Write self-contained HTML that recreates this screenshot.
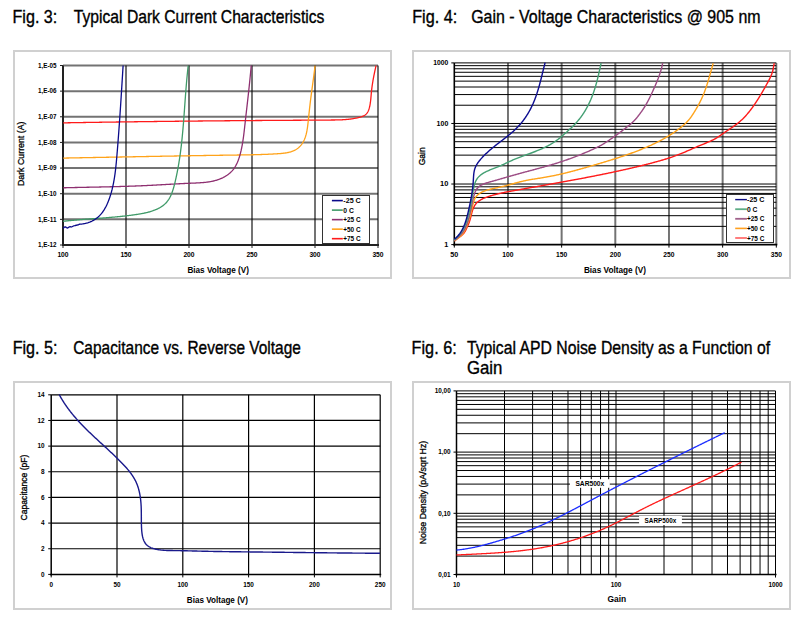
<!DOCTYPE html>
<html><head><meta charset="utf-8"><style>
html,body{margin:0;padding:0;background:#fff;width:804px;height:620px;overflow:hidden}
svg{display:block;font-family:"Liberation Sans", sans-serif}
</style></head><body>
<svg width="804" height="620" viewBox="0 0 804 620">
<rect width="804" height="620" fill="#fff"/>
<text x="12.50" y="22.70" font-size="17.80" font-weight="normal" text-anchor="start" fill="#000" textLength="44.80" lengthAdjust="spacingAndGlyphs" stroke="#000" stroke-width="0.35">Fig. 3:</text>
<text x="73.80" y="22.70" font-size="17.80" font-weight="normal" text-anchor="start" fill="#000" textLength="250.60" lengthAdjust="spacingAndGlyphs" stroke="#000" stroke-width="0.35">Typical Dark Current Characteristics</text>
<text x="412.20" y="22.70" font-size="17.80" font-weight="normal" text-anchor="start" fill="#000" textLength="45.10" lengthAdjust="spacingAndGlyphs" stroke="#000" stroke-width="0.35">Fig. 4:</text>
<text x="471.20" y="22.70" font-size="17.80" font-weight="normal" text-anchor="start" fill="#000" textLength="289.40" lengthAdjust="spacingAndGlyphs" stroke="#000" stroke-width="0.35">Gain - Voltage Characteristics @ 905 nm</text>
<text x="12.70" y="353.50" font-size="17.80" font-weight="normal" text-anchor="start" fill="#000" textLength="44.80" lengthAdjust="spacingAndGlyphs" stroke="#000" stroke-width="0.35">Fig. 5:</text>
<text x="73.20" y="353.50" font-size="17.80" font-weight="normal" text-anchor="start" fill="#000" textLength="227.70" lengthAdjust="spacingAndGlyphs" stroke="#000" stroke-width="0.35">Capacitance vs. Reverse Voltage</text>
<text x="411.60" y="353.50" font-size="17.80" font-weight="normal" text-anchor="start" fill="#000" textLength="45.10" lengthAdjust="spacingAndGlyphs" stroke="#000" stroke-width="0.35">Fig. 6:</text>
<text x="466.90" y="353.50" font-size="17.80" font-weight="normal" text-anchor="start" fill="#000" textLength="303.20" lengthAdjust="spacingAndGlyphs" stroke="#000" stroke-width="0.35">Typical APD Noise Density as a Function of</text>
<text x="466.90" y="374.40" font-size="17.80" font-weight="normal" text-anchor="start" fill="#000" textLength="35.50" lengthAdjust="spacingAndGlyphs" stroke="#000" stroke-width="0.35">Gain</text>
<rect x="14.0" y="51.0" width="377.0" height="227.0" fill="none" stroke="#d0d0d0" stroke-width="2"/>
<rect x="413.0" y="51.0" width="377.0" height="227.0" fill="none" stroke="#d0d0d0" stroke-width="2"/>
<rect x="14.0" y="382.0" width="377.0" height="227.0" fill="none" stroke="#d0d0d0" stroke-width="2"/>
<rect x="413.0" y="382.0" width="377.0" height="227.0" fill="none" stroke="#d0d0d0" stroke-width="2"/>
<line x1="63.00" y1="65.50" x2="378.00" y2="65.50" stroke="rgba(0,0,0,0.55)" stroke-width="2.00"/>
<line x1="63.00" y1="91.14" x2="378.00" y2="91.14" stroke="rgba(0,0,0,0.55)" stroke-width="2.00"/>
<line x1="63.00" y1="116.79" x2="378.00" y2="116.79" stroke="rgba(0,0,0,0.55)" stroke-width="2.00"/>
<line x1="63.00" y1="142.43" x2="378.00" y2="142.43" stroke="rgba(0,0,0,0.55)" stroke-width="2.00"/>
<line x1="63.00" y1="168.07" x2="378.00" y2="168.07" stroke="rgba(0,0,0,0.55)" stroke-width="2.00"/>
<line x1="63.00" y1="193.71" x2="378.00" y2="193.71" stroke="rgba(0,0,0,0.55)" stroke-width="2.00"/>
<line x1="63.00" y1="219.36" x2="378.00" y2="219.36" stroke="rgba(0,0,0,0.55)" stroke-width="2.00"/>
<line x1="126.00" y1="65.50" x2="126.00" y2="245.00" stroke="rgba(0,0,0,0.55)" stroke-width="2.00"/>
<line x1="189.00" y1="65.50" x2="189.00" y2="245.00" stroke="rgba(0,0,0,0.55)" stroke-width="2.00"/>
<line x1="252.00" y1="65.50" x2="252.00" y2="245.00" stroke="rgba(0,0,0,0.55)" stroke-width="2.00"/>
<line x1="315.00" y1="65.50" x2="315.00" y2="245.00" stroke="rgba(0,0,0,0.55)" stroke-width="2.00"/>
<line x1="378.00" y1="65.50" x2="378.00" y2="245.00" stroke="rgba(0,0,0,0.55)" stroke-width="2.00"/>
<line x1="63.00" y1="65.50" x2="63.00" y2="246.00" stroke="#222" stroke-width="2.00"/>
<line x1="62.00" y1="245.00" x2="379.00" y2="245.00" stroke="#222" stroke-width="2.00"/>
<line x1="60.00" y1="65.50" x2="63.00" y2="65.50" stroke="#222" stroke-width="1.00"/>
<text x="56.50" y="67.80" font-size="6.40" font-weight="bold" text-anchor="end" fill="#000" textLength="18.50" lengthAdjust="spacingAndGlyphs">1,E-05</text>
<line x1="60.00" y1="91.14" x2="63.00" y2="91.14" stroke="#222" stroke-width="1.00"/>
<text x="56.50" y="93.44" font-size="6.40" font-weight="bold" text-anchor="end" fill="#000" textLength="18.50" lengthAdjust="spacingAndGlyphs">1,E-06</text>
<line x1="60.00" y1="116.79" x2="63.00" y2="116.79" stroke="#222" stroke-width="1.00"/>
<text x="56.50" y="119.09" font-size="6.40" font-weight="bold" text-anchor="end" fill="#000" textLength="18.50" lengthAdjust="spacingAndGlyphs">1,E-07</text>
<line x1="60.00" y1="142.43" x2="63.00" y2="142.43" stroke="#222" stroke-width="1.00"/>
<text x="56.50" y="144.73" font-size="6.40" font-weight="bold" text-anchor="end" fill="#000" textLength="18.50" lengthAdjust="spacingAndGlyphs">1,E-08</text>
<line x1="60.00" y1="168.07" x2="63.00" y2="168.07" stroke="#222" stroke-width="1.00"/>
<text x="56.50" y="170.37" font-size="6.40" font-weight="bold" text-anchor="end" fill="#000" textLength="18.50" lengthAdjust="spacingAndGlyphs">1,E-09</text>
<line x1="60.00" y1="193.71" x2="63.00" y2="193.71" stroke="#222" stroke-width="1.00"/>
<text x="56.50" y="196.01" font-size="6.40" font-weight="bold" text-anchor="end" fill="#000" textLength="18.50" lengthAdjust="spacingAndGlyphs">1,E-10</text>
<line x1="60.00" y1="219.36" x2="63.00" y2="219.36" stroke="#222" stroke-width="1.00"/>
<text x="56.50" y="221.66" font-size="6.40" font-weight="bold" text-anchor="end" fill="#000" textLength="18.50" lengthAdjust="spacingAndGlyphs">1,E-11</text>
<line x1="60.00" y1="245.00" x2="63.00" y2="245.00" stroke="#222" stroke-width="1.00"/>
<text x="56.50" y="247.30" font-size="6.40" font-weight="bold" text-anchor="end" fill="#000" textLength="18.50" lengthAdjust="spacingAndGlyphs">1,E-12</text>
<line x1="63.00" y1="245.00" x2="63.00" y2="248.00" stroke="#222" stroke-width="1.00"/>
<text x="63.00" y="257.20" font-size="6.40" font-weight="bold" text-anchor="middle" fill="#000" textLength="11.20" lengthAdjust="spacingAndGlyphs">100</text>
<line x1="126.00" y1="245.00" x2="126.00" y2="248.00" stroke="#222" stroke-width="1.00"/>
<text x="126.00" y="257.20" font-size="6.40" font-weight="bold" text-anchor="middle" fill="#000" textLength="11.20" lengthAdjust="spacingAndGlyphs">150</text>
<line x1="189.00" y1="245.00" x2="189.00" y2="248.00" stroke="#222" stroke-width="1.00"/>
<text x="189.00" y="257.20" font-size="6.40" font-weight="bold" text-anchor="middle" fill="#000" textLength="11.20" lengthAdjust="spacingAndGlyphs">200</text>
<line x1="252.00" y1="245.00" x2="252.00" y2="248.00" stroke="#222" stroke-width="1.00"/>
<text x="252.00" y="257.20" font-size="6.40" font-weight="bold" text-anchor="middle" fill="#000" textLength="11.20" lengthAdjust="spacingAndGlyphs">250</text>
<line x1="315.00" y1="245.00" x2="315.00" y2="248.00" stroke="#222" stroke-width="1.00"/>
<text x="315.00" y="257.20" font-size="6.40" font-weight="bold" text-anchor="middle" fill="#000" textLength="11.20" lengthAdjust="spacingAndGlyphs">300</text>
<line x1="378.00" y1="245.00" x2="378.00" y2="248.00" stroke="#222" stroke-width="1.00"/>
<text x="378.00" y="257.20" font-size="6.40" font-weight="bold" text-anchor="middle" fill="#000" textLength="11.20" lengthAdjust="spacingAndGlyphs">350</text>
<text x="218.20" y="272.60" font-size="8.20" font-weight="bold" text-anchor="middle" fill="#000" textLength="61.60" lengthAdjust="spacingAndGlyphs">Bias Voltage (V)</text>
<g transform="translate(23.5,153.8) rotate(-90)">
<text x="0.00" y="0.00" font-size="9.40" font-weight="normal" text-anchor="middle" fill="#000" textLength="64.50" lengthAdjust="spacingAndGlyphs" stroke="#000" stroke-width="0.3">Dark Current (A)</text>
</g>
<clipPath id="c3"><rect x="63" y="64.6" width="316" height="181"/></clipPath><g clip-path="url(#c3)">
<path d="M63.22,122.85 63.92,122.84 64.62,122.83 65.32,122.82 66.02,122.80 66.72,122.79 67.41,122.78 68.11,122.77 68.81,122.76 69.51,122.75 70.21,122.73 70.91,122.72 71.61,122.71 72.31,122.70 73.00,122.69 73.70,122.68 74.40,122.66 75.10,122.65 75.80,122.64 76.50,122.63 77.20,122.62 77.90,122.61 78.60,122.60 79.29,122.58 79.99,122.57 80.69,122.56 81.39,122.55 82.09,122.54 82.79,122.53 83.49,122.52 84.19,122.51 84.89,122.49 85.59,122.48 86.29,122.47 86.98,122.46 87.68,122.45 88.38,122.44 89.08,122.43 89.78,122.42 90.48,122.41 91.18,122.40 91.88,122.38 92.58,122.37 93.28,122.36 93.98,122.35 94.68,122.34 95.38,122.33 96.07,122.32 96.77,122.31 97.47,122.30 98.17,122.29 98.87,122.28 99.57,122.27 100.27,122.26 100.97,122.25 101.67,122.23 102.37,122.22 103.07,122.21 103.77,122.20 104.47,122.19 105.17,122.18 105.87,122.17 106.57,122.16 107.27,122.15 107.97,122.14 108.67,122.13 109.37,122.12 110.06,122.11 110.76,122.10 111.46,122.09 112.16,122.08 112.86,122.07 113.56,122.06 114.26,122.05 114.96,122.04 115.66,122.03 116.36,122.02 117.06,122.01 117.76,122.00 118.46,121.99 119.16,121.98 119.86,121.97 120.56,121.96 121.26,121.95 121.96,121.94 122.66,121.93 123.36,121.92 124.06,121.91 124.76,121.90 125.46,121.89 126.16,121.88 126.86,121.87 127.56,121.86 128.26,121.85 128.96,121.84 129.66,121.83 130.36,121.83 131.06,121.82 131.76,121.81 132.46,121.80 133.16,121.79 133.86,121.78 134.56,121.77 135.26,121.76 135.96,121.75 136.66,121.74 137.36,121.73 138.06,121.72 138.76,121.71 139.46,121.70 140.16,121.69 140.86,121.69 141.56,121.68 142.26,121.67 142.96,121.66 143.66,121.65 144.36,121.64 145.06,121.63 145.76,121.62 146.46,121.61 147.16,121.60 147.86,121.60 148.56,121.59 149.26,121.58 149.96,121.57 150.66,121.56 151.36,121.55 152.06,121.54 152.76,121.53 153.46,121.53 154.16,121.52 154.86,121.51 155.56,121.50 156.26,121.49 156.96,121.48 157.66,121.47 158.36,121.47 159.06,121.46 159.76,121.45 160.46,121.44 161.16,121.43 161.86,121.42 162.56,121.42 163.26,121.41 163.96,121.40 164.66,121.39 165.36,121.38 166.06,121.37 166.76,121.37 167.46,121.36 168.16,121.35 168.86,121.34 169.56,121.33 170.26,121.33 170.96,121.32 171.66,121.31 172.36,121.30 173.06,121.29 173.76,121.29 174.46,121.28 175.16,121.27 175.86,121.26 176.56,121.25 177.26,121.25 177.96,121.24 178.66,121.23 179.36,121.22 180.06,121.22 180.76,121.21 181.46,121.20 182.16,121.19 182.86,121.18 183.56,121.18 184.26,121.17 184.96,121.16 185.66,121.15 186.36,121.15 187.06,121.14 187.76,121.13 188.46,121.12 189.16,121.12 189.86,121.11 190.56,121.10 191.26,121.09 191.96,121.09 192.66,121.08 193.36,121.07 194.06,121.07 194.76,121.06 195.46,121.05 196.16,121.04 196.86,121.04 197.56,121.03 198.26,121.02 198.96,121.02 199.66,121.01 200.36,121.00 201.06,120.99 201.76,120.99 202.46,120.98 203.16,120.97 203.86,120.97 204.56,120.96 205.26,120.95 205.96,120.95 206.66,120.94 207.36,120.93 208.06,120.93 208.76,120.92 209.46,120.91 210.16,120.91 210.86,120.90 211.56,120.89 212.26,120.89 212.96,120.88 213.66,120.87 214.36,120.87 215.06,120.86 215.76,120.85 216.46,120.85 217.16,120.84 217.86,120.83 218.56,120.83 219.26,120.82 219.96,120.81 220.66,120.81 221.36,120.80 222.06,120.80 222.75,120.79 223.45,120.78 224.15,120.78 224.85,120.77 225.55,120.76 226.25,120.76 226.95,120.75 227.65,120.75 228.35,120.74 229.05,120.73 229.75,120.73 230.45,120.72 231.15,120.72 231.85,120.71 232.55,120.70 233.25,120.70 233.95,120.69 234.65,120.69 235.35,120.68 236.05,120.67 236.75,120.67 237.45,120.66 238.14,120.66 238.84,120.65 239.54,120.65 240.24,120.64 240.94,120.63 241.64,120.63 242.34,120.62 243.04,120.62 243.74,120.61 244.44,120.61 245.14,120.60 245.84,120.60 246.54,120.59 247.24,120.58 247.94,120.58 248.63,120.57 249.33,120.57 250.03,120.56 250.73,120.56 251.43,120.55 252.13,120.55 252.83,120.54 253.53,120.54 254.23,120.53 254.93,120.53 255.63,120.52 256.32,120.52 257.02,120.51 257.72,120.51 258.42,120.50 259.12,120.50 259.82,120.49 260.52,120.49 261.22,120.48 261.92,120.48 262.62,120.47 263.31,120.47 264.01,120.46 264.71,120.46 265.41,120.45 266.11,120.45 266.81,120.44 267.51,120.44 268.21,120.43 268.90,120.43 269.60,120.42 270.30,120.42 271.00,120.41 271.70,120.41 272.40,120.40 273.10,120.40 273.79,120.39 274.49,120.39 275.19,120.39 275.89,120.38 276.59,120.38 277.29,120.37 277.99,120.37 278.68,120.36 279.38,120.36 280.08,120.35 280.78,120.35 281.48,120.35 282.18,120.34 282.87,120.34 283.57,120.33 284.27,120.33 284.97,120.32 285.67,120.32 286.37,120.32 287.07,120.31 287.76,120.31 288.46,120.30 289.16,120.30 289.86,120.29 290.56,120.29 291.26,120.29 291.96,120.28 292.66,120.28 293.35,120.27 294.05,120.27 294.75,120.26 295.45,120.26 296.15,120.26 296.85,120.25 297.55,120.25 298.25,120.24 298.95,120.24 299.65,120.23 300.35,120.23 301.05,120.23 301.75,120.22 302.45,120.22 303.15,120.21 303.85,120.21 304.55,120.20 305.25,120.20 305.95,120.20 306.65,120.19 307.35,120.19 308.05,120.18 308.75,120.18 309.45,120.17 310.15,120.17 310.85,120.16 311.55,120.16 312.25,120.16 312.96,120.15 313.66,120.15 314.36,120.14 315.06,120.14 315.76,120.13 316.46,120.13 317.17,120.12 317.87,120.12 318.57,120.11 319.27,120.11 319.98,120.10 320.68,120.10 321.38,120.09 322.09,120.09 322.79,120.08 323.49,120.08 324.20,120.07 324.90,120.07 325.60,120.06 326.31,120.06 327.01,120.05 327.72,120.05 328.42,120.04 329.13,120.04 329.83,120.03 330.54,120.03 331.24,120.02 331.95,120.02 332.65,120.01 333.36,120.00 334.06,119.99 334.77,119.98 335.47,119.97 336.18,119.96 336.88,119.95 337.59,119.93 338.29,119.91 339.00,119.89 339.70,119.87 340.40,119.84 341.10,119.82 341.81,119.79 342.51,119.75 343.21,119.71 343.90,119.67 344.60,119.63 345.30,119.58 346.00,119.52 346.69,119.46 347.39,119.40 348.08,119.33 348.77,119.26 349.46,119.18 350.15,119.10 350.84,119.01 351.53,118.92 352.21,118.82 352.90,118.71 353.58,118.60 354.26,118.48 354.94,118.36 355.62,118.22 356.30,118.08 356.97,117.94 357.64,117.78 358.31,117.62 358.98,117.45 359.65,117.27 360.31,117.09 360.97,116.89 361.62,116.67 362.25,116.44 362.87,116.19 363.48,115.91 364.06,115.61 364.62,115.29 365.16,114.93 365.67,114.54 366.15,114.12 366.59,113.65 367.00,113.15 367.38,112.61 367.72,112.04 368.04,111.44 368.33,110.82 368.59,110.17 368.83,109.50 369.05,108.83 369.26,108.14 369.45,107.44 369.62,106.74 369.78,106.04 369.92,105.33 370.06,104.62 370.18,103.90 370.29,103.18 370.40,102.46 370.49,101.74 370.58,101.01 370.66,100.29 370.74,99.56 370.81,98.84 370.88,98.11 370.94,97.38 371.01,96.66 371.07,95.94 371.13,95.22 371.19,94.50 371.25,93.78 371.32,93.07 371.38,92.36 371.46,91.65 371.53,90.95 371.61,90.25 371.69,89.55 371.77,88.85 371.85,88.16 371.94,87.47 372.03,86.78 372.13,86.09 372.22,85.41 372.32,84.73 372.43,84.04 372.53,83.36 372.64,82.68 372.75,82.00 372.86,81.33 372.97,80.65 373.09,79.97 373.21,79.29 373.33,78.62 373.46,77.94 373.59,77.26 373.71,76.59 373.85,75.91 373.98,75.23 374.12,74.55 374.26,73.87 374.40,73.19 374.54,72.50 374.68,71.82 374.83,71.13 374.98,70.44 375.13,69.75 375.29,69.06 375.44,68.36 375.60,67.66 375.76,66.96 375.92,66.26 376.08,65.55" fill="none" stroke="#ff1a1a" stroke-width="1.30" stroke-linejoin="round" stroke-linecap="butt"/>
<path d="M63.25,158.08 63.95,158.07 64.64,158.06 65.34,158.05 66.04,158.03 66.73,158.02 67.43,158.01 68.13,157.99 68.82,157.98 69.52,157.97 70.22,157.95 70.91,157.94 71.61,157.93 72.31,157.92 73.00,157.90 73.70,157.89 74.40,157.88 75.10,157.86 75.79,157.85 76.49,157.84 77.19,157.82 77.89,157.81 78.58,157.80 79.28,157.78 79.98,157.77 80.68,157.76 81.38,157.75 82.07,157.73 82.77,157.72 83.47,157.71 84.17,157.69 84.87,157.68 85.56,157.67 86.26,157.65 86.96,157.64 87.66,157.63 88.36,157.61 89.06,157.60 89.76,157.59 90.45,157.57 91.15,157.56 91.85,157.55 92.55,157.53 93.25,157.52 93.95,157.51 94.65,157.49 95.35,157.48 96.04,157.47 96.74,157.45 97.44,157.44 98.14,157.43 98.84,157.41 99.54,157.40 100.24,157.39 100.94,157.38 101.64,157.36 102.34,157.35 103.04,157.34 103.74,157.32 104.44,157.31 105.14,157.30 105.83,157.28 106.53,157.27 107.23,157.26 107.93,157.24 108.63,157.23 109.33,157.22 110.03,157.20 110.73,157.19 111.43,157.18 112.13,157.16 112.83,157.15 113.53,157.14 114.23,157.12 114.93,157.11 115.63,157.10 116.33,157.08 117.03,157.07 117.73,157.06 118.43,157.04 119.13,157.03 119.83,157.02 120.53,157.00 121.23,156.99 121.93,156.98 122.63,156.96 123.33,156.95 124.03,156.94 124.74,156.92 125.44,156.91 126.14,156.90 126.84,156.88 127.54,156.87 128.24,156.86 128.94,156.85 129.64,156.83 130.34,156.82 131.04,156.81 131.74,156.79 132.44,156.78 133.14,156.77 133.84,156.75 134.54,156.74 135.24,156.73 135.94,156.71 136.64,156.70 137.34,156.69 138.04,156.67 138.74,156.66 139.45,156.65 140.15,156.64 140.85,156.62 141.55,156.61 142.25,156.60 142.95,156.58 143.65,156.57 144.35,156.56 145.05,156.54 145.75,156.53 146.45,156.52 147.15,156.51 147.85,156.49 148.55,156.48 149.25,156.47 149.95,156.45 150.66,156.44 151.36,156.43 152.06,156.42 152.76,156.40 153.46,156.39 154.16,156.38 154.86,156.36 155.56,156.35 156.26,156.34 156.96,156.33 157.66,156.31 158.36,156.30 159.06,156.29 159.76,156.28 160.46,156.26 161.16,156.25 161.86,156.24 162.57,156.22 163.27,156.21 163.97,156.20 164.67,156.19 165.37,156.17 166.07,156.16 166.77,156.15 167.47,156.14 168.17,156.12 168.87,156.11 169.57,156.10 170.27,156.09 170.97,156.07 171.67,156.06 172.37,156.05 173.07,156.04 173.77,156.03 174.47,156.01 175.17,156.00 175.87,155.99 176.57,155.98 177.27,155.96 177.97,155.95 178.67,155.94 179.37,155.93 180.07,155.92 180.77,155.90 181.47,155.89 182.17,155.88 182.87,155.87 183.57,155.86 184.27,155.84 184.97,155.83 185.67,155.82 186.37,155.81 187.07,155.80 187.77,155.78 188.47,155.77 189.17,155.76 189.87,155.75 190.57,155.74 191.27,155.72 191.96,155.71 192.66,155.70 193.36,155.69 194.06,155.68 194.76,155.67 195.46,155.65 196.16,155.64 196.86,155.63 197.56,155.62 198.26,155.61 198.96,155.60 199.65,155.59 200.35,155.57 201.05,155.56 201.75,155.55 202.45,155.54 203.15,155.53 203.85,155.52 204.55,155.51 205.24,155.50 205.94,155.48 206.64,155.47 207.34,155.46 208.04,155.45 208.74,155.44 209.43,155.43 210.13,155.42 210.83,155.41 211.53,155.40 212.23,155.39 212.92,155.37 213.62,155.36 214.32,155.35 215.02,155.34 215.71,155.33 216.41,155.32 217.11,155.31 217.81,155.30 218.50,155.29 219.20,155.28 219.90,155.27 220.60,155.26 221.29,155.25 221.99,155.24 222.69,155.23 223.38,155.22 224.08,155.21 224.78,155.19 225.47,155.18 226.17,155.17 226.87,155.16 227.56,155.15 228.26,155.14 228.96,155.13 229.65,155.12 230.35,155.11 231.04,155.10 231.74,155.09 232.44,155.08 233.13,155.07 233.83,155.06 234.52,155.05 235.22,155.05 235.92,155.04 236.61,155.03 237.31,155.02 238.00,155.01 238.70,155.00 239.39,154.99 240.09,154.98 240.78,154.97 241.48,154.96 242.18,154.95 242.87,154.93 243.57,154.92 244.26,154.91 244.96,154.90 245.66,154.89 246.35,154.88 247.05,154.86 247.75,154.85 248.44,154.84 249.14,154.83 249.84,154.81 250.54,154.80 251.24,154.78 251.93,154.77 252.63,154.75 253.33,154.74 254.03,154.72 254.73,154.70 255.43,154.68 256.13,154.67 256.84,154.65 257.54,154.63 258.24,154.61 258.94,154.59 259.65,154.57 260.35,154.54 261.05,154.52 261.76,154.50 262.46,154.47 263.17,154.45 263.87,154.42 264.58,154.39 265.29,154.37 266.00,154.34 266.71,154.31 267.42,154.28 268.13,154.25 268.84,154.21 269.55,154.18 270.26,154.15 270.97,154.11 271.69,154.07 272.40,154.04 273.12,154.00 273.83,153.96 274.55,153.92 275.27,153.88 275.99,153.83 276.71,153.79 277.43,153.74 278.15,153.70 278.87,153.65 279.59,153.60 280.31,153.54 281.03,153.48 281.75,153.42 282.46,153.35 283.17,153.27 283.88,153.19 284.59,153.10 285.29,153.00 285.99,152.89 286.68,152.78 287.37,152.65 288.05,152.51 288.72,152.36 289.39,152.20 290.05,152.03 290.70,151.84 291.34,151.64 291.98,151.42 292.61,151.19 293.22,150.94 293.83,150.68 294.42,150.39 295.01,150.09 295.58,149.77 296.14,149.44 296.69,149.08 297.23,148.70 297.75,148.31 298.26,147.90 298.76,147.47 299.24,147.03 299.71,146.57 300.17,146.09 300.61,145.60 301.04,145.10 301.45,144.58 301.85,144.04 302.23,143.50 302.60,142.94 302.95,142.36 303.29,141.78 303.61,141.18 303.92,140.57 304.21,139.96 304.49,139.33 304.75,138.69 305.00,138.04 305.23,137.38 305.46,136.72 305.67,136.05 305.87,135.37 306.06,134.68 306.23,133.99 306.40,133.29 306.56,132.59 306.71,131.88 306.85,131.16 306.99,130.45 307.11,129.73 307.23,129.01 307.34,128.28 307.45,127.55 307.55,126.83 307.65,126.10 307.74,125.37 307.83,124.64 307.92,123.91 308.00,123.19 308.08,122.46 308.16,121.74 308.23,121.02 308.31,120.30 308.39,119.59 308.46,118.88 308.54,118.17 308.61,117.46 308.69,116.76 308.76,116.06 308.83,115.36 308.91,114.66 308.98,113.97 309.05,113.28 309.13,112.59 309.20,111.90 309.28,111.21 309.35,110.52 309.42,109.84 309.50,109.15 309.57,108.47 309.65,107.79 309.73,107.11 309.80,106.42 309.88,105.74 309.96,105.06 310.04,104.38 310.12,103.69 310.20,103.01 310.28,102.33 310.36,101.64 310.45,100.96 310.53,100.27 310.62,99.59 310.70,98.90 310.79,98.21 310.88,97.53 310.97,96.84 311.06,96.15 311.15,95.46 311.24,94.77 311.33,94.08 311.42,93.39 311.51,92.70 311.61,92.00 311.70,91.31 311.79,90.62 311.89,89.93 311.98,89.23 312.08,88.54 312.17,87.84 312.27,87.15 312.36,86.46 312.46,85.76 312.55,85.07 312.65,84.37 312.74,83.67 312.84,82.98 312.93,82.28 313.03,81.59 313.12,80.89 313.22,80.19 313.31,79.50 313.41,78.80 313.50,78.11 313.59,77.41 313.69,76.71 313.78,76.02 313.87,75.32 313.96,74.62 314.05,73.93 314.14,73.23 314.23,72.54 314.32,71.84 314.41,71.14 314.50,70.45 314.58,69.75 314.67,69.06 314.76,68.36 314.84,67.67 314.92,66.97 315.00,66.28 315.09,65.59" fill="none" stroke="#ffa31a" stroke-width="1.30" stroke-linejoin="round" stroke-linecap="butt"/>
<path d="M63.25,187.80 63.94,187.78 64.63,187.76 65.32,187.75 66.02,187.73 66.71,187.71 67.40,187.70 68.10,187.68 68.79,187.66 69.49,187.65 70.18,187.63 70.88,187.62 71.57,187.60 72.27,187.58 72.96,187.57 73.66,187.55 74.35,187.54 75.05,187.52 75.75,187.51 76.44,187.49 77.14,187.48 77.84,187.46 78.53,187.45 79.23,187.43 79.93,187.42 80.63,187.40 81.32,187.39 82.02,187.38 82.72,187.36 83.42,187.35 84.12,187.33 84.82,187.32 85.52,187.30 86.21,187.29 86.91,187.27 87.61,187.26 88.31,187.25 89.01,187.23 89.71,187.22 90.41,187.20 91.11,187.19 91.81,187.17 92.51,187.16 93.21,187.14 93.91,187.13 94.61,187.12 95.31,187.10 96.01,187.09 96.72,187.07 97.42,187.06 98.12,187.04 98.82,187.03 99.52,187.01 100.22,187.00 100.92,186.98 101.62,186.97 102.32,186.95 103.03,186.93 103.73,186.92 104.43,186.90 105.13,186.89 105.83,186.87 106.53,186.85 107.23,186.84 107.93,186.82 108.64,186.80 109.34,186.79 110.04,186.77 110.74,186.75 111.44,186.74 112.14,186.72 112.84,186.70 113.55,186.68 114.25,186.67 114.95,186.65 115.65,186.63 116.35,186.61 117.05,186.59 117.75,186.57 118.45,186.55 119.15,186.53 119.86,186.51 120.56,186.49 121.26,186.47 121.96,186.45 122.66,186.43 123.36,186.41 124.06,186.39 124.76,186.37 125.46,186.35 126.16,186.32 126.86,186.30 127.56,186.28 128.26,186.26 128.96,186.23 129.66,186.21 130.36,186.18 131.06,186.16 131.75,186.14 132.45,186.11 133.15,186.09 133.85,186.06 134.55,186.03 135.25,186.01 135.95,185.98 136.64,185.95 137.34,185.93 138.04,185.90 138.74,185.87 139.43,185.84 140.13,185.81 140.83,185.79 141.52,185.76 142.22,185.73 142.91,185.70 143.61,185.66 144.31,185.63 145.00,185.60 145.70,185.57 146.39,185.54 147.09,185.50 147.78,185.47 148.48,185.44 149.17,185.40 149.86,185.37 150.56,185.33 151.25,185.30 151.94,185.26 152.64,185.23 153.33,185.19 154.02,185.15 154.71,185.12 155.41,185.08 156.10,185.04 156.79,185.00 157.48,184.97 158.18,184.93 158.87,184.89 159.56,184.85 160.25,184.81 160.95,184.77 161.64,184.74 162.33,184.70 163.02,184.66 163.72,184.62 164.41,184.58 165.10,184.54 165.80,184.50 166.49,184.46 167.18,184.42 167.88,184.38 168.57,184.34 169.26,184.30 169.96,184.26 170.65,184.23 171.35,184.19 172.04,184.15 172.74,184.11 173.43,184.07 174.13,184.03 174.83,183.99 175.52,183.96 176.22,183.92 176.92,183.88 177.62,183.84 178.32,183.81 179.01,183.77 179.71,183.73 180.41,183.70 181.11,183.66 181.82,183.63 182.52,183.59 183.22,183.56 183.92,183.52 184.62,183.49 185.33,183.45 186.03,183.42 186.74,183.39 187.44,183.36 188.15,183.32 188.86,183.29 189.56,183.26 190.27,183.23 190.98,183.20 191.69,183.17 192.40,183.14 193.11,183.12 193.82,183.09 194.53,183.06 195.25,183.03 195.96,183.00 196.67,182.96 197.38,182.93 198.09,182.89 198.81,182.86 199.52,182.81 200.23,182.77 200.94,182.72 201.64,182.67 202.35,182.62 203.06,182.56 203.77,182.50 204.47,182.43 205.17,182.36 205.88,182.28 206.58,182.20 207.28,182.11 207.97,182.01 208.67,181.91 209.36,181.80 210.05,181.69 210.74,181.57 211.43,181.44 212.11,181.30 212.79,181.15 213.47,181.00 214.15,180.84 214.82,180.66 215.49,180.48 216.16,180.29 216.82,180.09 217.48,179.88 218.14,179.66 218.79,179.43 219.44,179.18 220.09,178.93 220.72,178.67 221.36,178.39 221.98,178.11 222.61,177.82 223.22,177.51 223.83,177.19 224.43,176.87 225.02,176.53 225.61,176.18 226.18,175.82 226.75,175.45 227.31,175.07 227.86,174.67 228.40,174.27 228.93,173.85 229.45,173.43 229.96,172.99 230.46,172.54 230.94,172.07 231.42,171.60 231.88,171.12 232.33,170.62 232.77,170.11 233.19,169.59 233.60,169.06 234.00,168.51 234.39,167.96 234.76,167.39 235.12,166.81 235.47,166.23 235.81,165.63 236.13,165.03 236.45,164.42 236.75,163.80 237.04,163.17 237.33,162.53 237.60,161.89 237.87,161.24 238.13,160.59 238.37,159.93 238.61,159.26 238.85,158.60 239.07,157.92 239.29,157.25 239.50,156.57 239.70,155.89 239.90,155.20 240.09,154.52 240.27,153.83 240.45,153.14 240.63,152.45 240.80,151.77 240.96,151.08 241.13,150.39 241.28,149.69 241.43,149.00 241.58,148.31 241.72,147.62 241.86,146.92 242.00,146.23 242.13,145.53 242.25,144.84 242.38,144.14 242.50,143.45 242.61,142.75 242.73,142.06 242.84,141.36 242.95,140.66 243.05,139.96 243.15,139.27 243.25,138.57 243.35,137.87 243.45,137.17 243.54,136.47 243.63,135.78 243.72,135.08 243.81,134.38 243.89,133.68 243.98,132.98 244.06,132.28 244.14,131.58 244.22,130.89 244.30,130.19 244.38,129.49 244.46,128.79 244.54,128.09 244.62,127.39 244.69,126.70 244.77,126.00 244.85,125.30 244.93,124.61 245.00,123.91 245.08,123.21 245.16,122.52 245.24,121.82 245.31,121.13 245.39,120.43 245.47,119.74 245.55,119.04 245.63,118.35 245.71,117.66 245.78,116.96 245.86,116.27 245.94,115.58 246.02,114.88 246.10,114.19 246.18,113.50 246.26,112.80 246.34,112.11 246.42,111.42 246.49,110.73 246.57,110.04 246.65,109.34 246.73,108.65 246.81,107.96 246.89,107.27 246.97,106.58 247.05,105.89 247.13,105.19 247.20,104.50 247.28,103.81 247.36,103.12 247.44,102.43 247.52,101.74 247.60,101.05 247.67,100.35 247.75,99.66 247.83,98.97 247.91,98.28 247.98,97.59 248.06,96.90 248.14,96.21 248.22,95.51 248.29,94.82 248.37,94.13 248.45,93.44 248.52,92.75 248.60,92.05 248.67,91.36 248.75,90.67 248.82,89.98 248.90,89.28 248.97,88.59 249.05,87.90 249.12,87.20 249.20,86.51 249.27,85.81 249.34,85.12 249.41,84.43 249.49,83.73 249.56,83.04 249.63,82.34 249.70,81.65 249.77,80.95 249.84,80.25 249.92,79.56 249.99,78.86 250.05,78.16 250.12,77.47 250.19,76.77 250.26,76.07 250.33,75.37 250.40,74.67 250.46,73.97 250.53,73.27 250.60,72.57 250.66,71.87 250.73,71.17 250.79,70.47 250.86,69.77 250.92,69.07 250.98,68.37 251.05,67.66 251.11,66.96 251.17,66.26 251.23,65.55" fill="none" stroke="#8e2f70" stroke-width="1.30" stroke-linejoin="round" stroke-linecap="butt"/>
<path d="M63.12,221.29 63.84,221.21 64.55,221.13 65.25,221.05 65.96,220.98 66.67,220.91 67.38,220.83 68.09,220.76 68.79,220.69 69.50,220.62 70.20,220.55 70.91,220.49 71.61,220.42 72.32,220.35 73.02,220.29 73.72,220.23 74.42,220.16 75.12,220.10 75.83,220.04 76.53,219.98 77.23,219.92 77.93,219.87 78.63,219.81 79.32,219.75 80.02,219.69 80.72,219.64 81.42,219.58 82.12,219.53 82.81,219.47 83.51,219.42 84.21,219.37 84.90,219.31 85.60,219.26 86.29,219.21 86.99,219.16 87.68,219.11 88.38,219.06 89.07,219.01 89.76,218.95 90.46,218.90 91.15,218.85 91.85,218.80 92.54,218.75 93.23,218.70 93.92,218.65 94.62,218.60 95.31,218.55 96.00,218.50 96.69,218.45 97.39,218.40 98.08,218.35 98.77,218.30 99.46,218.25 100.15,218.20 100.85,218.15 101.54,218.10 102.23,218.05 102.92,218.00 103.61,217.94 104.30,217.89 105.00,217.84 105.69,217.78 106.38,217.73 107.07,217.67 107.76,217.62 108.45,217.56 109.15,217.51 109.84,217.45 110.53,217.39 111.22,217.33 111.92,217.27 112.61,217.21 113.30,217.15 113.99,217.09 114.69,217.03 115.38,216.96 116.07,216.90 116.77,216.83 117.46,216.77 118.16,216.70 118.85,216.63 119.55,216.56 120.24,216.49 120.94,216.42 121.63,216.35 122.33,216.27 123.02,216.20 123.72,216.12 124.42,216.04 125.12,215.96 125.81,215.88 126.51,215.80 127.21,215.72 127.91,215.63 128.61,215.54 129.31,215.46 130.01,215.37 130.71,215.28 131.41,215.18 132.11,215.09 132.81,214.99 133.52,214.90 134.22,214.80 134.92,214.70 135.63,214.59 136.33,214.49 137.04,214.38 137.74,214.28 138.45,214.16 139.15,214.05 139.86,213.94 140.57,213.82 141.27,213.69 141.98,213.57 142.68,213.43 143.39,213.30 144.09,213.16 144.79,213.01 145.49,212.86 146.19,212.70 146.89,212.54 147.58,212.37 148.28,212.19 148.97,212.00 149.66,211.81 150.35,211.61 151.03,211.40 151.71,211.19 152.39,210.96 153.07,210.73 153.74,210.48 154.40,210.23 155.07,209.97 155.72,209.70 156.37,209.42 157.02,209.12 157.65,208.82 158.28,208.51 158.90,208.19 159.51,207.85 160.11,207.51 160.70,207.15 161.29,206.79 161.86,206.41 162.41,206.02 162.96,205.62 163.49,205.20 164.01,204.78 164.52,204.34 165.01,203.89 165.49,203.43 165.95,202.95 166.40,202.46 166.83,201.96 167.25,201.45 167.65,200.93 168.04,200.40 168.41,199.85 168.78,199.29 169.13,198.73 169.46,198.15 169.79,197.57 170.10,196.98 170.41,196.38 170.70,195.77 170.98,195.15 171.26,194.53 171.52,193.89 171.78,193.26 172.02,192.61 172.26,191.96 172.49,191.31 172.71,190.65 172.93,189.98 173.14,189.31 173.34,188.64 173.54,187.97 173.74,187.29 173.92,186.60 174.11,185.92 174.29,185.23 174.46,184.55 174.63,183.86 174.80,183.17 174.97,182.48 175.13,181.78 175.30,181.09 175.46,180.40 175.61,179.71 175.77,179.02 175.93,178.33 176.08,177.64 176.23,176.95 176.38,176.26 176.52,175.56 176.67,174.87 176.81,174.18 176.95,173.49 177.09,172.80 177.23,172.11 177.36,171.41 177.50,170.72 177.63,170.03 177.76,169.34 177.89,168.64 178.01,167.95 178.14,167.26 178.26,166.57 178.38,165.87 178.50,165.18 178.62,164.49 178.74,163.80 178.85,163.10 178.97,162.41 179.08,161.72 179.19,161.02 179.30,160.33 179.41,159.64 179.51,158.94 179.62,158.25 179.72,157.56 179.82,156.86 179.92,156.17 180.02,155.48 180.12,154.78 180.22,154.09 180.31,153.39 180.41,152.70 180.50,152.01 180.59,151.31 180.68,150.62 180.77,149.92 180.85,149.23 180.94,148.53 181.03,147.84 181.11,147.15 181.19,146.45 181.28,145.76 181.36,145.06 181.44,144.37 181.51,143.67 181.59,142.98 181.67,142.28 181.74,141.59 181.82,140.89 181.89,140.20 181.96,139.50 182.04,138.81 182.11,138.11 182.18,137.42 182.25,136.72 182.31,136.02 182.38,135.33 182.45,134.63 182.51,133.94 182.58,133.24 182.64,132.55 182.71,131.85 182.77,131.15 182.83,130.46 182.89,129.76 182.95,129.07 183.01,128.37 183.07,127.67 183.13,126.98 183.19,126.28 183.25,125.59 183.31,124.89 183.36,124.19 183.42,123.50 183.48,122.80 183.53,122.10 183.59,121.41 183.64,120.71 183.69,120.01 183.75,119.32 183.80,118.62 183.85,117.92 183.91,117.23 183.96,116.53 184.01,115.83 184.06,115.14 184.12,114.44 184.17,113.74 184.22,113.05 184.27,112.35 184.32,111.65 184.37,110.95 184.42,110.26 184.47,109.56 184.52,108.86 184.57,108.17 184.62,107.47 184.67,106.77 184.72,106.07 184.77,105.38 184.82,104.68 184.87,103.98 184.92,103.28 184.97,102.59 185.02,101.89 185.07,101.19 185.12,100.49 185.17,99.80 185.22,99.10 185.27,98.40 185.32,97.70 185.38,97.01 185.43,96.31 185.48,95.61 185.53,94.91 185.58,94.21 185.64,93.52 185.69,92.82 185.74,92.12 185.80,91.42 185.85,90.73 185.91,90.03 185.96,89.33 186.02,88.63 186.07,87.93 186.13,87.24 186.19,86.54 186.24,85.84 186.30,85.14 186.36,84.44 186.42,83.75 186.48,83.05 186.54,82.35 186.60,81.65 186.66,80.95 186.72,80.26 186.79,79.56 186.85,78.86 186.91,78.16 186.98,77.46 187.05,76.76 187.11,76.07 187.18,75.37 187.25,74.67 187.32,73.97 187.39,73.27 187.46,72.58 187.53,71.88 187.60,71.18 187.68,70.48 187.75,69.78 187.83,69.08 187.90,68.39 187.98,67.69 188.06,66.99 188.14,66.29 188.22,65.59" fill="none" stroke="#3f9a68" stroke-width="1.30" stroke-linejoin="round" stroke-linecap="butt"/>
<path d="M78.67,224.31 79.45,224.26 80.22,224.20 80.99,224.13 81.75,224.04 82.50,223.94 83.25,223.82 83.99,223.68 84.72,223.54 85.44,223.38 86.15,223.20 86.86,223.01 87.56,222.81 88.24,222.59 88.92,222.35 89.59,222.11 90.25,221.85 90.90,221.57 91.54,221.29 92.18,220.99 92.80,220.67 93.41,220.34 94.00,220.00 94.59,219.65 95.17,219.28 95.73,218.90 96.29,218.50 96.83,218.10 97.36,217.68 97.88,217.25 98.38,216.80 98.87,216.34 99.36,215.88 99.83,215.40 100.29,214.91 100.74,214.41 101.18,213.90 101.60,213.37 102.02,212.84 102.43,212.30 102.83,211.76 103.22,211.20 103.60,210.63 103.97,210.06 104.33,209.48 104.68,208.89 105.02,208.29 105.36,207.69 105.69,207.08 106.00,206.47 106.32,205.85 106.62,205.23 106.92,204.60 107.20,203.96 107.49,203.32 107.76,202.68 108.03,202.03 108.29,201.38 108.55,200.73 108.80,200.08 109.04,199.42 109.28,198.76 109.51,198.10 109.74,197.44 109.96,196.77 110.18,196.11 110.39,195.44 110.60,194.77 110.80,194.10 111.00,193.43 111.20,192.76 111.38,192.09 111.57,191.42 111.75,190.74 111.92,190.07 112.10,189.39 112.26,188.71 112.43,188.03 112.58,187.36 112.74,186.67 112.89,185.99 113.04,185.31 113.18,184.63 113.32,183.94 113.46,183.26 113.59,182.57 113.72,181.89 113.85,181.20 113.97,180.51 114.09,179.82 114.21,179.13 114.32,178.44 114.43,177.75 114.54,177.06 114.65,176.37 114.75,175.68 114.85,174.98 114.95,174.29 115.04,173.60 115.13,172.90 115.22,172.21 115.31,171.51 115.40,170.82 115.48,170.12 115.57,169.42 115.65,168.73 115.72,168.03 115.80,167.33 115.88,166.63 115.95,165.94 116.02,165.24 116.09,164.54 116.16,163.84 116.23,163.14 116.30,162.44 116.36,161.74 116.43,161.05 116.49,160.35 116.55,159.65 116.62,158.95 116.68,158.25 116.74,157.55 116.80,156.85 116.86,156.15 116.92,155.45 116.98,154.75 117.04,154.06 117.09,153.36 117.15,152.66 117.21,151.96 117.27,151.26 117.33,150.56 117.38,149.87 117.44,149.17 117.50,148.47 117.55,147.77 117.61,147.08 117.67,146.38 117.72,145.68 117.78,144.99 117.83,144.29 117.89,143.59 117.94,142.90 118.00,142.20 118.05,141.50 118.10,140.81 118.16,140.11 118.21,139.41 118.26,138.72 118.32,138.02 118.37,137.32 118.42,136.63 118.48,135.93 118.53,135.24 118.58,134.54 118.63,133.85 118.68,133.15 118.74,132.45 118.79,131.76 118.84,131.06 118.89,130.37 118.94,129.67 118.99,128.98 119.04,128.28 119.09,127.59 119.14,126.89 119.19,126.20 119.24,125.50 119.29,124.81 119.34,124.11 119.39,123.41 119.44,122.72 119.49,122.02 119.53,121.33 119.58,120.63 119.63,119.94 119.68,119.24 119.73,118.55 119.77,117.85 119.82,117.16 119.87,116.46 119.92,115.77 119.96,115.07 120.01,114.38 120.06,113.68 120.10,112.99 120.15,112.29 120.20,111.60 120.24,110.90 120.29,110.21 120.34,109.51 120.38,108.82 120.43,108.12 120.47,107.43 120.52,106.73 120.57,106.04 120.61,105.34 120.66,104.65 120.70,103.95 120.75,103.26 120.79,102.56 120.84,101.86 120.88,101.17 120.93,100.47 120.97,99.78 121.02,99.08 121.06,98.39 121.11,97.69 121.15,96.99 121.19,96.30 121.24,95.60 121.28,94.91 121.33,94.21 121.37,93.51 121.42,92.82 121.46,92.12 121.50,91.42 121.55,90.73 121.59,90.03 121.63,89.33 121.68,88.63 121.72,87.94 121.77,87.24 121.81,86.54 121.85,85.84 121.90,85.15 121.94,84.45 121.98,83.75 122.03,83.05 122.07,82.35 122.11,81.66 122.16,80.96 122.20,80.26 122.24,79.56 122.29,78.86 122.33,78.16 122.37,77.46 122.42,76.76 122.46,76.07 122.50,75.37 122.55,74.67 122.59,73.97 122.63,73.27 122.68,72.57 122.72,71.87 122.76,71.16 122.81,70.46 122.85,69.76 122.89,69.06 122.94,68.36 122.98,67.66 123.02,66.96 123.07,66.26 123.11,65.55" fill="none" stroke="#0a0a8a" stroke-width="1.30" stroke-linejoin="round" stroke-linecap="butt"/>
<polyline points="63.2,228.6 64.2,227.2 65.4,226.8 66.5,227.6 67.7,228.1 68.8,227.2 70.2,226.6 71.5,227.0 73,226.2 75.3,225.5 79,224.6" fill="none" stroke="#0a0a8a" stroke-width="1.3" stroke-linejoin="round"/>
</g>
<rect x="322.5" y="195.5" width="47" height="48" fill="#fff" stroke="#333" stroke-width="1"/>
<line x1="331.90" y1="200.60" x2="342.80" y2="200.60" stroke="#0a0a8a" stroke-width="1.60"/>
<text x="343.30" y="203.20" font-size="7.60" font-weight="bold" text-anchor="start" fill="#000" textLength="17.50" lengthAdjust="spacingAndGlyphs">-25 C</text>
<line x1="331.90" y1="210.12" x2="342.80" y2="210.12" stroke="#3f9a68" stroke-width="1.60"/>
<text x="343.30" y="212.72" font-size="7.60" font-weight="bold" text-anchor="start" fill="#000" textLength="10.50" lengthAdjust="spacingAndGlyphs">0 C</text>
<line x1="331.90" y1="219.64" x2="342.80" y2="219.64" stroke="#8e2f70" stroke-width="1.60"/>
<text x="343.30" y="222.24" font-size="7.60" font-weight="bold" text-anchor="start" fill="#000" textLength="17.30" lengthAdjust="spacingAndGlyphs">+25 C</text>
<line x1="331.90" y1="229.16" x2="342.80" y2="229.16" stroke="#ffa31a" stroke-width="1.60"/>
<text x="343.30" y="231.76" font-size="7.60" font-weight="bold" text-anchor="start" fill="#000" textLength="17.30" lengthAdjust="spacingAndGlyphs">+50 C</text>
<line x1="331.90" y1="238.68" x2="342.80" y2="238.68" stroke="#ff1a1a" stroke-width="1.60"/>
<text x="343.30" y="241.28" font-size="7.60" font-weight="bold" text-anchor="start" fill="#000" textLength="17.30" lengthAdjust="spacingAndGlyphs">+75 C</text>
<line x1="454.30" y1="226.37" x2="776.30" y2="226.37" stroke="#000" stroke-width="1.00"/>
<line x1="454.30" y1="215.70" x2="776.30" y2="215.70" stroke="#000" stroke-width="1.00"/>
<line x1="454.30" y1="208.14" x2="776.30" y2="208.14" stroke="#000" stroke-width="1.00"/>
<line x1="454.30" y1="202.27" x2="776.30" y2="202.27" stroke="#000" stroke-width="1.00"/>
<line x1="454.30" y1="197.47" x2="776.30" y2="197.47" stroke="#000" stroke-width="1.00"/>
<line x1="454.30" y1="193.42" x2="776.30" y2="193.42" stroke="#000" stroke-width="1.00"/>
<line x1="454.30" y1="189.90" x2="776.30" y2="189.90" stroke="#000" stroke-width="1.00"/>
<line x1="454.30" y1="186.80" x2="776.30" y2="186.80" stroke="#000" stroke-width="1.00"/>
<line x1="454.30" y1="184.03" x2="776.30" y2="184.03" stroke="#000" stroke-width="1.00"/>
<line x1="454.30" y1="165.80" x2="776.30" y2="165.80" stroke="#000" stroke-width="1.00"/>
<line x1="454.30" y1="155.14" x2="776.30" y2="155.14" stroke="#000" stroke-width="1.00"/>
<line x1="454.30" y1="147.57" x2="776.30" y2="147.57" stroke="#000" stroke-width="1.00"/>
<line x1="454.30" y1="141.70" x2="776.30" y2="141.70" stroke="#000" stroke-width="1.00"/>
<line x1="454.30" y1="136.90" x2="776.30" y2="136.90" stroke="#000" stroke-width="1.00"/>
<line x1="454.30" y1="132.85" x2="776.30" y2="132.85" stroke="#000" stroke-width="1.00"/>
<line x1="454.30" y1="129.34" x2="776.30" y2="129.34" stroke="#000" stroke-width="1.00"/>
<line x1="454.30" y1="126.24" x2="776.30" y2="126.24" stroke="#000" stroke-width="1.00"/>
<line x1="454.30" y1="123.47" x2="776.30" y2="123.47" stroke="#000" stroke-width="1.00"/>
<line x1="454.30" y1="105.23" x2="776.30" y2="105.23" stroke="#000" stroke-width="1.00"/>
<line x1="454.30" y1="94.57" x2="776.30" y2="94.57" stroke="#000" stroke-width="1.00"/>
<line x1="454.30" y1="87.00" x2="776.30" y2="87.00" stroke="#000" stroke-width="1.00"/>
<line x1="454.30" y1="81.13" x2="776.30" y2="81.13" stroke="#000" stroke-width="1.00"/>
<line x1="454.30" y1="76.34" x2="776.30" y2="76.34" stroke="#000" stroke-width="1.00"/>
<line x1="454.30" y1="72.28" x2="776.30" y2="72.28" stroke="#000" stroke-width="1.00"/>
<line x1="454.30" y1="68.77" x2="776.30" y2="68.77" stroke="#000" stroke-width="1.00"/>
<line x1="454.30" y1="65.67" x2="776.30" y2="65.67" stroke="#000" stroke-width="1.00"/>
<line x1="454.30" y1="62.90" x2="776.30" y2="62.90" stroke="#000" stroke-width="1.00"/>
<line x1="507.97" y1="62.90" x2="507.97" y2="244.60" stroke="rgba(0,0,0,0.55)" stroke-width="2.00"/>
<line x1="561.63" y1="62.90" x2="561.63" y2="244.60" stroke="rgba(0,0,0,0.55)" stroke-width="2.00"/>
<line x1="615.30" y1="62.90" x2="615.30" y2="244.60" stroke="rgba(0,0,0,0.55)" stroke-width="2.00"/>
<line x1="668.97" y1="62.90" x2="668.97" y2="244.60" stroke="rgba(0,0,0,0.55)" stroke-width="2.00"/>
<line x1="722.63" y1="62.90" x2="722.63" y2="244.60" stroke="rgba(0,0,0,0.55)" stroke-width="2.00"/>
<line x1="776.30" y1="62.90" x2="776.30" y2="244.60" stroke="rgba(0,0,0,0.55)" stroke-width="2.00"/>
<line x1="454.30" y1="62.90" x2="454.30" y2="245.60" stroke="#000" stroke-width="1.60"/>
<line x1="453.30" y1="244.60" x2="777.30" y2="244.60" stroke="#000" stroke-width="1.60"/>
<line x1="451.30" y1="244.60" x2="454.30" y2="244.60" stroke="#000" stroke-width="1.00"/>
<text x="448.30" y="246.90" font-size="6.40" font-weight="bold" text-anchor="end" fill="#000" textLength="4.00" lengthAdjust="spacingAndGlyphs">1</text>
<line x1="451.30" y1="184.03" x2="454.30" y2="184.03" stroke="#000" stroke-width="1.00"/>
<text x="448.30" y="186.33" font-size="6.40" font-weight="bold" text-anchor="end" fill="#000" textLength="8.30" lengthAdjust="spacingAndGlyphs">10</text>
<line x1="451.30" y1="123.47" x2="454.30" y2="123.47" stroke="#000" stroke-width="1.00"/>
<text x="448.30" y="125.77" font-size="6.40" font-weight="bold" text-anchor="end" fill="#000" textLength="11.70" lengthAdjust="spacingAndGlyphs">100</text>
<line x1="451.30" y1="62.90" x2="454.30" y2="62.90" stroke="#000" stroke-width="1.00"/>
<text x="448.30" y="65.20" font-size="6.40" font-weight="bold" text-anchor="end" fill="#000" textLength="15.00" lengthAdjust="spacingAndGlyphs">1000</text>
<line x1="454.30" y1="244.60" x2="454.30" y2="247.60" stroke="#000" stroke-width="1.00"/>
<text x="454.30" y="257.20" font-size="6.40" font-weight="bold" text-anchor="middle" fill="#000" textLength="8.00" lengthAdjust="spacingAndGlyphs">50</text>
<line x1="507.97" y1="244.60" x2="507.97" y2="247.60" stroke="#000" stroke-width="1.00"/>
<text x="507.97" y="257.20" font-size="6.40" font-weight="bold" text-anchor="middle" fill="#000" textLength="11.20" lengthAdjust="spacingAndGlyphs">100</text>
<line x1="561.63" y1="244.60" x2="561.63" y2="247.60" stroke="#000" stroke-width="1.00"/>
<text x="561.63" y="257.20" font-size="6.40" font-weight="bold" text-anchor="middle" fill="#000" textLength="11.20" lengthAdjust="spacingAndGlyphs">150</text>
<line x1="615.30" y1="244.60" x2="615.30" y2="247.60" stroke="#000" stroke-width="1.00"/>
<text x="615.30" y="257.20" font-size="6.40" font-weight="bold" text-anchor="middle" fill="#000" textLength="11.20" lengthAdjust="spacingAndGlyphs">200</text>
<line x1="668.97" y1="244.60" x2="668.97" y2="247.60" stroke="#000" stroke-width="1.00"/>
<text x="668.97" y="257.20" font-size="6.40" font-weight="bold" text-anchor="middle" fill="#000" textLength="11.20" lengthAdjust="spacingAndGlyphs">250</text>
<line x1="722.63" y1="244.60" x2="722.63" y2="247.60" stroke="#000" stroke-width="1.00"/>
<text x="722.63" y="257.20" font-size="6.40" font-weight="bold" text-anchor="middle" fill="#000" textLength="11.20" lengthAdjust="spacingAndGlyphs">300</text>
<line x1="776.30" y1="244.60" x2="776.30" y2="247.60" stroke="#000" stroke-width="1.00"/>
<text x="776.30" y="257.20" font-size="6.40" font-weight="bold" text-anchor="middle" fill="#000" textLength="11.20" lengthAdjust="spacingAndGlyphs">350</text>
<text x="614.90" y="272.60" font-size="8.20" font-weight="bold" text-anchor="middle" fill="#000" textLength="62.00" lengthAdjust="spacingAndGlyphs">Bias Voltage (V)</text>
<g transform="translate(424.9,156.3) rotate(-90)">
<text x="0.00" y="0.00" font-size="9.40" font-weight="normal" text-anchor="middle" fill="#000" textLength="18.10" lengthAdjust="spacingAndGlyphs" stroke="#000" stroke-width="0.3">Gain</text>
</g>
<clipPath id="c4"><rect x="454" y="61.5" width="323" height="184"/></clipPath><g clip-path="url(#c4)">
<path d="M454.39,241.09 454.88,240.61 455.40,240.15 455.94,239.70 456.49,239.27 457.05,238.84 457.62,238.43 458.19,238.01 458.77,237.60 459.34,237.19 459.92,236.77 460.48,236.35 461.04,235.92 461.58,235.48 462.11,235.02 462.62,234.55 463.11,234.07 463.57,233.56 464.01,233.03 464.41,232.47 464.79,231.90 465.15,231.30 465.48,230.69 465.80,230.07 466.11,229.44 466.40,228.80 466.69,228.16 466.97,227.52 467.26,226.89 467.54,226.26 467.82,225.63 468.10,225.00 468.37,224.37 468.63,223.74 468.89,223.11 469.14,222.47 469.37,221.82 469.60,221.16 469.81,220.49 470.02,219.81 470.21,219.13 470.40,218.44 470.58,217.75 470.76,217.05 470.94,216.35 471.11,215.65 471.29,214.95 471.46,214.25 471.64,213.55 471.83,212.86 472.02,212.17 472.21,211.48 472.42,210.80 472.64,210.13 472.86,209.47 473.11,208.82 473.36,208.17 473.63,207.54 473.92,206.93 474.23,206.32 474.56,205.74 474.91,205.17 475.29,204.61 475.69,204.08 476.11,203.56 476.56,203.06 477.04,202.59 477.54,202.13 478.06,201.69 478.60,201.27 479.16,200.86 479.73,200.47 480.33,200.09 480.93,199.73 481.55,199.39 482.19,199.06 482.83,198.74 483.48,198.43 484.15,198.14 484.81,197.86 485.49,197.59 486.16,197.33 486.84,197.08 487.52,196.84 488.20,196.61 488.88,196.38 489.56,196.17 490.23,195.96 490.90,195.75 491.57,195.56 492.24,195.36 492.90,195.18 493.57,194.99 494.24,194.82 494.91,194.64 495.58,194.47 496.25,194.30 496.92,194.13 497.59,193.97 498.27,193.80 498.94,193.64 499.62,193.49 500.29,193.33 500.97,193.18 501.65,193.03 502.33,192.88 503.01,192.74 503.69,192.59 504.37,192.45 505.05,192.31 505.74,192.17 506.42,192.03 507.10,191.90 507.79,191.76 508.48,191.63 509.16,191.50 509.85,191.37 510.53,191.24 511.22,191.11 511.91,190.99 512.60,190.86 513.28,190.73 513.97,190.61 514.66,190.48 515.35,190.36 516.04,190.24 516.73,190.11 517.42,189.99 518.11,189.87 518.80,189.75 519.48,189.62 520.17,189.50 520.86,189.38 521.55,189.26 522.24,189.13 522.93,189.01 523.62,188.89 524.31,188.77 525.00,188.65 525.69,188.52 526.38,188.40 527.06,188.28 527.75,188.16 528.44,188.04 529.13,187.91 529.82,187.79 530.51,187.67 531.20,187.55 531.89,187.43 532.58,187.31 533.27,187.19 533.95,187.06 534.64,186.94 535.33,186.82 536.02,186.70 536.71,186.58 537.40,186.46 538.09,186.33 538.78,186.21 539.47,186.09 540.15,185.97 540.84,185.85 541.53,185.73 542.22,185.60 542.91,185.48 543.60,185.36 544.29,185.24 544.97,185.12 545.66,184.99 546.35,184.87 547.04,184.75 547.73,184.63 548.42,184.50 549.11,184.38 549.79,184.26 550.48,184.14 551.17,184.01 551.86,183.89 552.55,183.77 553.24,183.65 553.92,183.52 554.61,183.40 555.30,183.28 555.99,183.15 556.68,183.03 557.37,182.91 558.05,182.78 558.74,182.66 559.43,182.53 560.12,182.41 560.81,182.29 561.49,182.16 562.18,182.04 562.87,181.91 563.56,181.79 564.25,181.66 564.93,181.54 565.62,181.41 566.31,181.29 567.00,181.16 567.68,181.04 568.37,180.91 569.06,180.78 569.75,180.66 570.43,180.53 571.12,180.40 571.81,180.28 572.49,180.15 573.18,180.02 573.87,179.89 574.56,179.77 575.24,179.64 575.93,179.51 576.62,179.38 577.30,179.25 577.99,179.12 578.68,179.00 579.36,178.87 580.05,178.74 580.74,178.61 581.42,178.48 582.11,178.35 582.80,178.22 583.48,178.09 584.17,177.95 584.86,177.82 585.54,177.69 586.23,177.56 586.91,177.43 587.60,177.29 588.29,177.16 588.97,177.03 589.66,176.90 590.34,176.76 591.03,176.63 591.72,176.49 592.40,176.36 593.09,176.23 593.77,176.09 594.46,175.95 595.14,175.82 595.83,175.68 596.51,175.55 597.20,175.41 597.88,175.27 598.57,175.14 599.25,175.00 599.94,174.86 600.62,174.72 601.31,174.58 601.99,174.44 602.68,174.30 603.36,174.16 604.05,174.02 604.73,173.88 605.42,173.74 606.10,173.60 606.78,173.46 607.47,173.32 608.15,173.18 608.84,173.03 609.52,172.89 610.20,172.75 610.89,172.60 611.57,172.46 612.25,172.31 612.94,172.17 613.62,172.02 614.30,171.88 614.99,171.73 615.67,171.58 616.35,171.43 617.04,171.29 617.72,171.14 618.40,170.99 619.09,170.84 619.77,170.69 620.45,170.54 621.13,170.39 621.81,170.24 622.50,170.09 623.18,169.94 623.86,169.78 624.54,169.63 625.23,169.48 625.91,169.33 626.59,169.17 627.27,169.02 627.95,168.86 628.63,168.71 629.31,168.55 630.00,168.39 630.68,168.23 631.36,168.08 632.04,167.92 632.72,167.76 633.40,167.60 634.08,167.44 634.76,167.28 635.44,167.12 636.12,166.95 636.80,166.79 637.48,166.63 638.16,166.46 638.84,166.30 639.52,166.13 640.20,165.97 640.88,165.80 641.56,165.63 642.23,165.46 642.91,165.30 643.59,165.13 644.27,164.95 644.95,164.78 645.62,164.61 646.30,164.44 646.98,164.26 647.66,164.09 648.33,163.91 649.01,163.74 649.69,163.56 650.36,163.38 651.04,163.20 651.72,163.03 652.39,162.84 653.07,162.66 653.74,162.48 654.42,162.30 655.09,162.11 655.77,161.93 656.44,161.74 657.11,161.56 657.79,161.37 658.46,161.18 659.13,160.99 659.81,160.80 660.48,160.60 661.15,160.41 661.82,160.21 662.49,160.02 663.16,159.82 663.83,159.62 664.50,159.41 665.17,159.21 665.84,159.01 666.51,158.80 667.17,158.59 667.84,158.38 668.51,158.16 669.17,157.95 669.83,157.73 670.50,157.51 671.16,157.29 671.82,157.07 672.48,156.84 673.14,156.61 673.80,156.38 674.45,156.15 675.11,155.91 675.77,155.67 676.42,155.43 677.07,155.18 677.73,154.94 678.38,154.69 679.03,154.43 679.67,154.18 680.32,153.92 680.97,153.66 681.61,153.39 682.26,153.13 682.90,152.86 683.55,152.59 684.19,152.32 684.83,152.05 685.47,151.77 686.11,151.50 686.76,151.22 687.40,150.95 688.04,150.67 688.68,150.39 689.32,150.11 689.96,149.83 690.60,149.55 691.24,149.26 691.88,148.98 692.52,148.70 693.16,148.42 693.80,148.14 694.44,147.86 695.08,147.58 695.73,147.30 696.37,147.02 697.01,146.74 697.66,146.47 698.30,146.19 698.95,145.92 699.59,145.65 700.24,145.37 700.89,145.10 701.54,144.84 702.19,144.57 702.84,144.31 703.49,144.04 704.14,143.78 704.79,143.52 705.45,143.25 706.10,142.99 706.74,142.72 707.39,142.45 708.04,142.18 708.68,141.90 709.32,141.62 709.96,141.34 710.60,141.05 711.23,140.76 711.86,140.46 712.49,140.16 713.11,139.85 713.73,139.53 714.34,139.21 714.95,138.87 715.55,138.53 716.15,138.18 716.74,137.82 717.33,137.45 717.91,137.08 718.49,136.69 719.06,136.30 719.63,135.91 720.20,135.51 720.77,135.11 721.34,134.70 721.91,134.30 722.48,133.90 723.05,133.50 723.63,133.10 724.21,132.71 724.79,132.31 725.37,131.92 725.95,131.53 726.53,131.14 727.12,130.75 727.70,130.36 728.29,129.97 728.87,129.58 729.46,129.18 730.04,128.79 730.62,128.40 731.20,128.01 731.78,127.61 732.36,127.21 732.94,126.81 733.51,126.41 734.08,126.00 734.65,125.59 735.22,125.18 735.78,124.77 736.34,124.35 736.90,123.93 737.45,123.50 738.00,123.07 738.54,122.63 739.08,122.19 739.61,121.74 740.14,121.29 740.66,120.83 741.17,120.36 741.68,119.89 742.19,119.41 742.69,118.93 743.19,118.45 743.68,117.95 744.16,117.46 744.64,116.95 745.12,116.45 745.59,115.94 746.06,115.42 746.52,114.90 746.98,114.38 747.43,113.85 747.88,113.32 748.33,112.78 748.77,112.24 749.20,111.70 749.64,111.15 750.07,110.60 750.50,110.05 750.92,109.49 751.34,108.93 751.75,108.37 752.17,107.80 752.58,107.24 752.98,106.67 753.39,106.10 753.79,105.52 754.19,104.95 754.58,104.37 754.98,103.79 755.37,103.21 755.76,102.62 756.14,102.04 756.53,101.45 756.91,100.87 757.29,100.28 757.66,99.69 758.04,99.10 758.41,98.51 758.78,97.91 759.15,97.32 759.52,96.72 759.88,96.13 760.25,95.53 760.61,94.93 760.97,94.33 761.33,93.73 761.68,93.13 762.04,92.53 762.39,91.93 762.74,91.32 763.09,90.72 763.44,90.11 763.79,89.50 764.13,88.90 764.48,88.29 764.82,87.68 765.16,87.07 765.50,86.46 765.84,85.85 766.18,85.24 766.51,84.63 766.85,84.01 767.18,83.40 767.52,82.79 767.85,82.17 768.18,81.56 768.51,80.94 768.84,80.32 769.16,79.71 769.48,79.09 769.79,78.46 770.09,77.84 770.39,77.21 770.68,76.58 770.96,75.95 771.23,75.31 771.49,74.67 771.74,74.02 771.98,73.37 772.21,72.72 772.42,72.06 772.61,71.39 772.79,70.72 772.96,70.04 773.10,69.36 773.23,68.67 773.35,67.97 773.46,67.27 773.57,66.57 773.69,65.88 773.83,65.19 773.99,64.51 774.19,63.83 774.43,63.18" fill="none" stroke="#ff1a1a" stroke-width="1.40" stroke-linejoin="round" stroke-linecap="butt"/>
<path d="M454.37,240.98 454.91,240.53 455.45,240.08 456.00,239.65 456.56,239.21 457.12,238.78 457.68,238.35 458.24,237.92 458.80,237.49 459.35,237.05 459.89,236.61 460.43,236.15 460.94,235.69 461.44,235.21 461.93,234.72 462.39,234.21 462.83,233.69 463.24,233.14 463.63,232.57 464.00,231.99 464.34,231.39 464.66,230.78 464.97,230.15 465.27,229.52 465.56,228.88 465.84,228.24 466.11,227.60 466.38,226.95 466.65,226.30 466.91,225.65 467.16,225.00 467.41,224.34 467.66,223.69 467.90,223.03 468.13,222.37 468.36,221.71 468.59,221.05 468.81,220.38 469.03,219.72 469.24,219.05 469.45,218.38 469.66,217.71 469.86,217.04 470.05,216.37 470.24,215.70 470.43,215.02 470.61,214.34 470.79,213.67 470.97,212.99 471.14,212.31 471.31,211.62 471.47,210.94 471.63,210.26 471.79,209.57 471.94,208.89 472.09,208.20 472.25,207.52 472.40,206.83 472.56,206.14 472.72,205.46 472.88,204.77 473.05,204.09 473.22,203.40 473.40,202.72 473.59,202.03 473.79,201.36 474.00,200.69 474.24,200.03 474.49,199.38 474.77,198.75 475.08,198.13 475.42,197.54 475.80,196.97 476.21,196.42 476.66,195.90 477.15,195.41 477.66,194.94 478.20,194.49 478.76,194.07 479.34,193.66 479.93,193.28 480.53,192.92 481.13,192.57 481.75,192.24 482.37,191.93 483.00,191.63 483.63,191.35 484.27,191.08 484.92,190.83 485.57,190.59 486.23,190.36 486.89,190.14 487.55,189.93 488.22,189.74 488.90,189.55 489.57,189.37 490.25,189.20 490.94,189.03 491.62,188.87 492.31,188.71 493.00,188.56 493.69,188.42 494.38,188.27 495.08,188.13 495.77,187.99 496.47,187.85 497.16,187.71 497.86,187.57 498.55,187.42 499.24,187.28 499.93,187.13 500.62,186.98 501.31,186.82 501.99,186.66 502.68,186.49 503.36,186.33 504.04,186.16 504.72,185.98 505.40,185.81 506.08,185.63 506.76,185.45 507.44,185.27 508.11,185.08 508.79,184.90 509.46,184.71 510.14,184.53 510.81,184.34 511.48,184.15 512.15,183.97 512.83,183.78 513.50,183.59 514.17,183.40 514.84,183.22 515.52,183.04 516.19,182.85 516.86,182.67 517.53,182.49 518.21,182.31 518.88,182.14 519.56,181.97 520.23,181.80 520.91,181.63 521.58,181.47 522.26,181.31 522.94,181.15 523.62,181.00 524.30,180.85 524.98,180.71 525.67,180.56 526.35,180.43 527.04,180.29 527.72,180.16 528.41,180.03 529.09,179.90 529.78,179.78 530.47,179.66 531.16,179.53 531.85,179.42 532.54,179.30 533.23,179.18 533.92,179.07 534.61,178.96 535.30,178.85 535.99,178.73 536.69,178.62 537.38,178.51 538.07,178.40 538.76,178.30 539.45,178.19 540.15,178.08 540.84,177.97 541.53,177.86 542.22,177.74 542.91,177.63 543.61,177.52 544.30,177.40 544.99,177.29 545.68,177.17 546.37,177.05 547.06,176.93 547.75,176.81 548.44,176.68 549.13,176.55 549.82,176.43 550.50,176.29 551.19,176.16 551.88,176.03 552.56,175.89 553.25,175.75 553.94,175.61 554.62,175.47 555.31,175.33 555.99,175.18 556.67,175.03 557.36,174.88 558.04,174.73 558.72,174.58 559.41,174.43 560.09,174.27 560.77,174.12 561.45,173.96 562.13,173.80 562.81,173.64 563.49,173.48 564.17,173.31 564.85,173.15 565.53,172.98 566.21,172.81 566.89,172.64 567.57,172.47 568.25,172.30 568.92,172.13 569.60,171.96 570.28,171.78 570.96,171.61 571.63,171.43 572.31,171.25 572.99,171.07 573.66,170.89 574.34,170.71 575.01,170.53 575.69,170.35 576.36,170.16 577.04,169.98 577.71,169.79 578.39,169.61 579.06,169.42 579.74,169.23 580.41,169.04 581.08,168.85 581.76,168.66 582.43,168.47 583.10,168.28 583.78,168.09 584.45,167.90 585.12,167.71 585.79,167.51 586.47,167.32 587.14,167.12 587.81,166.93 588.48,166.73 589.16,166.54 589.83,166.34 590.50,166.15 591.17,165.95 591.84,165.75 592.51,165.56 593.18,165.36 593.86,165.16 594.53,164.97 595.20,164.77 595.87,164.57 596.54,164.37 597.21,164.17 597.88,163.98 598.55,163.78 599.22,163.58 599.89,163.38 600.56,163.18 601.23,162.98 601.90,162.78 602.57,162.58 603.24,162.38 603.91,162.17 604.58,161.97 605.25,161.77 605.92,161.57 606.59,161.36 607.26,161.16 607.93,160.95 608.60,160.75 609.26,160.54 609.93,160.34 610.60,160.13 611.27,159.92 611.93,159.71 612.60,159.50 613.27,159.29 613.93,159.08 614.60,158.87 615.27,158.66 615.93,158.44 616.60,158.23 617.26,158.01 617.93,157.80 618.59,157.58 619.26,157.36 619.92,157.15 620.58,156.93 621.25,156.70 621.91,156.48 622.57,156.26 623.23,156.04 623.89,155.81 624.56,155.58 625.22,155.36 625.88,155.13 626.54,154.90 627.20,154.67 627.86,154.44 628.52,154.20 629.17,153.97 629.83,153.73 630.49,153.50 631.15,153.26 631.80,153.02 632.46,152.78 633.12,152.53 633.77,152.29 634.43,152.04 635.08,151.80 635.74,151.55 636.39,151.30 637.04,151.05 637.70,150.79 638.35,150.54 639.00,150.28 639.65,150.02 640.30,149.76 640.95,149.50 641.60,149.24 642.25,148.97 642.90,148.71 643.55,148.44 644.19,148.17 644.84,147.90 645.48,147.62 646.13,147.35 646.77,147.07 647.42,146.79 648.06,146.51 648.70,146.23 649.34,145.94 649.98,145.65 650.62,145.37 651.26,145.07 651.89,144.78 652.53,144.48 653.16,144.19 653.80,143.88 654.43,143.58 655.06,143.28 655.69,142.97 656.32,142.66 656.94,142.35 657.57,142.03 658.19,141.72 658.82,141.40 659.44,141.08 660.06,140.75 660.68,140.42 661.29,140.09 661.91,139.76 662.52,139.43 663.14,139.09 663.75,138.75 664.36,138.41 664.96,138.06 665.57,137.71 666.17,137.36 666.78,137.01 667.38,136.65 667.97,136.29 668.57,135.93 669.17,135.56 669.76,135.19 670.35,134.82 670.94,134.45 671.52,134.07 672.11,133.69 672.69,133.30 673.27,132.92 673.85,132.52 674.42,132.13 675.00,131.73 675.57,131.33 676.14,130.93 676.71,130.52 677.27,130.11 677.83,129.70 678.39,129.28 678.95,128.86 679.50,128.44 680.06,128.01 680.61,127.58 681.15,127.14 681.69,126.70 682.23,126.26 682.77,125.81 683.30,125.36 683.82,124.90 684.34,124.43 684.86,123.96 685.36,123.48 685.87,123.00 686.36,122.51 686.85,122.01 687.33,121.51 687.81,121.00 688.28,120.48 688.73,119.96 689.19,119.42 689.63,118.88 690.06,118.33 690.48,117.77 690.90,117.21 691.31,116.63 691.71,116.05 692.10,115.47 692.49,114.88 692.88,114.29 693.26,113.70 693.63,113.10 694.01,112.50 694.38,111.91 694.75,111.31 695.12,110.71 695.48,110.11 695.84,109.51 696.20,108.90 696.55,108.30 696.90,107.69 697.25,107.09 697.60,106.48 697.94,105.87 698.27,105.26 698.61,104.64 698.94,104.03 699.26,103.41 699.59,102.80 699.91,102.18 700.22,101.56 700.53,100.93 700.84,100.31 701.14,99.68 701.44,99.05 701.74,98.42 702.03,97.79 702.31,97.15 702.59,96.52 702.87,95.88 703.14,95.24 703.41,94.59 703.68,93.95 703.93,93.30 704.19,92.65 704.44,92.00 704.69,91.35 704.93,90.69 705.17,90.03 705.41,89.38 705.65,88.72 705.88,88.06 706.10,87.39 706.33,86.73 706.55,86.06 706.77,85.40 706.98,84.73 707.20,84.06 707.41,83.39 707.62,82.72 707.83,82.05 708.03,81.38 708.23,80.71 708.43,80.03 708.63,79.36 708.83,78.69 709.03,78.01 709.22,77.34 709.42,76.66 709.61,75.99 709.80,75.31 709.99,74.64 710.18,73.96 710.37,73.29 710.56,72.61 710.75,71.94 710.94,71.26 711.13,70.59 711.32,69.92 711.51,69.24 711.70,68.57 711.89,67.90 712.07,67.23 712.27,66.56 712.46,65.89 712.65,65.22 712.84,64.55 713.04,63.89 713.23,63.22" fill="none" stroke="#ffa31a" stroke-width="1.40" stroke-linejoin="round" stroke-linecap="butt"/>
<path d="M454.37,240.47 454.92,240.03 455.47,239.59 456.01,239.14 456.55,238.68 457.08,238.22 457.61,237.76 458.13,237.29 458.64,236.82 459.14,236.33 459.64,235.84 460.12,235.34 460.59,234.84 461.05,234.32 461.50,233.80 461.94,233.26 462.36,232.71 462.76,232.15 463.15,231.59 463.53,231.01 463.89,230.42 464.24,229.82 464.57,229.22 464.90,228.60 465.21,227.98 465.51,227.35 465.80,226.72 466.08,226.08 466.36,225.43 466.62,224.78 466.87,224.12 467.11,223.46 467.35,222.80 467.58,222.13 467.80,221.46 468.01,220.79 468.22,220.12 468.42,219.44 468.61,218.77 468.80,218.09 468.99,217.42 469.17,216.74 469.34,216.07 469.52,215.39 469.68,214.72 469.85,214.04 470.01,213.37 470.17,212.69 470.33,212.02 470.48,211.34 470.63,210.67 470.78,209.99 470.93,209.32 471.08,208.64 471.22,207.96 471.37,207.28 471.51,206.60 471.65,205.92 471.79,205.23 471.94,204.55 472.08,203.86 472.22,203.17 472.36,202.48 472.51,201.79 472.65,201.10 472.80,200.40 472.95,199.70 473.10,199.00 473.25,198.30 473.41,197.60 473.58,196.90 473.75,196.21 473.94,195.52 474.13,194.84 474.34,194.17 474.56,193.50 474.80,192.85 475.05,192.21 475.32,191.58 475.61,190.96 475.93,190.37 476.26,189.79 476.62,189.23 477.00,188.68 477.41,188.17 477.85,187.67 478.32,187.20 478.82,186.75 479.35,186.33 479.90,185.94 480.48,185.56 481.08,185.21 481.70,184.87 482.34,184.56 482.99,184.26 483.65,183.98 484.33,183.71 485.00,183.46 485.69,183.22 486.37,182.98 487.06,182.76 487.75,182.55 488.44,182.35 489.13,182.15 489.82,181.96 490.51,181.77 491.19,181.58 491.88,181.39 492.56,181.21 493.24,181.02 493.92,180.84 494.59,180.65 495.26,180.46 495.93,180.27 496.59,180.08 497.26,179.89 497.92,179.70 498.59,179.51 499.25,179.32 499.91,179.12 500.58,178.93 501.24,178.74 501.91,178.54 502.58,178.35 503.24,178.16 503.91,177.97 504.58,177.77 505.25,177.58 505.92,177.39 506.59,177.19 507.25,177.00 507.93,176.81 508.60,176.61 509.27,176.42 509.94,176.23 510.61,176.04 511.28,175.85 511.96,175.66 512.63,175.46 513.30,175.27 513.98,175.08 514.65,174.89 515.32,174.71 516.00,174.52 516.67,174.33 517.35,174.14 518.02,173.96 518.70,173.77 519.37,173.58 520.05,173.40 520.72,173.21 521.40,173.03 522.07,172.85 522.75,172.66 523.42,172.48 524.10,172.30 524.77,172.12 525.45,171.94 526.12,171.75 526.80,171.57 527.48,171.39 528.15,171.21 528.83,171.03 529.50,170.85 530.18,170.67 530.85,170.49 531.53,170.31 532.20,170.13 532.88,169.95 533.55,169.77 534.23,169.59 534.90,169.40 535.58,169.22 536.25,169.04 536.93,168.86 537.60,168.68 538.28,168.49 538.95,168.31 539.62,168.13 540.30,167.94 540.97,167.76 541.64,167.57 542.32,167.38 542.99,167.20 543.66,167.01 544.33,166.82 545.01,166.63 545.68,166.44 546.35,166.25 547.02,166.06 547.69,165.87 548.36,165.67 549.03,165.48 549.70,165.28 550.37,165.08 551.04,164.89 551.71,164.69 552.38,164.49 553.05,164.29 553.72,164.08 554.38,163.88 555.05,163.67 555.72,163.47 556.39,163.26 557.05,163.05 557.72,162.84 558.38,162.62 559.05,162.41 559.71,162.20 560.37,161.98 561.04,161.76 561.70,161.54 562.36,161.32 563.03,161.10 563.69,160.87 564.35,160.65 565.01,160.42 565.67,160.19 566.33,159.97 566.99,159.73 567.65,159.50 568.30,159.27 568.96,159.03 569.62,158.80 570.28,158.56 570.93,158.32 571.59,158.08 572.24,157.84 572.90,157.59 573.55,157.35 574.21,157.10 574.86,156.85 575.51,156.60 576.16,156.35 576.81,156.10 577.47,155.85 578.12,155.59 578.77,155.33 579.41,155.08 580.06,154.82 580.71,154.55 581.36,154.29 582.01,154.03 582.65,153.76 583.30,153.49 583.94,153.23 584.59,152.96 585.23,152.68 585.87,152.41 586.52,152.14 587.16,151.86 587.80,151.58 588.44,151.30 589.08,151.02 589.72,150.74 590.36,150.46 591.00,150.17 591.63,149.88 592.27,149.60 592.90,149.31 593.54,149.02 594.17,148.72 594.81,148.43 595.44,148.13 596.07,147.83 596.70,147.53 597.33,147.23 597.96,146.92 598.58,146.60 599.20,146.28 599.82,145.96 600.43,145.63 601.04,145.30 601.65,144.96 602.26,144.61 602.85,144.25 603.45,143.89 604.04,143.53 604.63,143.16 605.22,142.78 605.80,142.40 606.39,142.02 606.97,141.63 607.55,141.24 608.12,140.85 608.70,140.46 609.28,140.06 609.85,139.66 610.43,139.27 611.00,138.87 611.57,138.47 612.15,138.07 612.72,137.66 613.29,137.26 613.86,136.85 614.43,136.45 615.00,136.04 615.56,135.64 616.13,135.23 616.70,134.82 617.26,134.41 617.83,134.00 618.39,133.58 618.96,133.17 619.52,132.75 620.08,132.34 620.64,131.92 621.20,131.50 621.75,131.08 622.31,130.66 622.87,130.23 623.42,129.81 623.97,129.38 624.53,128.96 625.08,128.53 625.63,128.09 626.18,127.66 626.72,127.23 627.27,126.79 627.81,126.35 628.35,125.91 628.89,125.47 629.43,125.02 629.97,124.57 630.50,124.12 631.02,123.66 631.55,123.19 632.06,122.73 632.58,122.25 633.08,121.77 633.58,121.29 634.07,120.79 634.55,120.29 635.03,119.78 635.50,119.27 635.96,118.74 636.41,118.22 636.86,117.68 637.30,117.14 637.74,116.60 638.17,116.05 638.60,115.49 639.02,114.94 639.44,114.38 639.86,113.82 640.27,113.25 640.68,112.69 641.09,112.12 641.49,111.55 641.90,110.98 642.29,110.41 642.69,109.83 643.08,109.25 643.47,108.67 643.85,108.09 644.23,107.50 644.60,106.91 644.97,106.32 645.33,105.72 645.69,105.13 646.04,104.53 646.39,103.92 646.74,103.31 647.07,102.71 647.41,102.09 647.74,101.48 648.07,100.86 648.39,100.25 648.71,99.62 649.03,99.00 649.34,98.38 649.66,97.75 649.96,97.13 650.27,96.50 650.57,95.87 650.87,95.24 651.17,94.60 651.47,93.97 651.76,93.33 652.06,92.70 652.35,92.06 652.64,91.43 652.93,90.79 653.21,90.15 653.50,89.51 653.79,88.88 654.07,88.24 654.36,87.60 654.64,86.96 654.92,86.32 655.20,85.68 655.47,85.04 655.75,84.39 656.02,83.75 656.29,83.11 656.56,82.46 656.83,81.82 657.09,81.17 657.35,80.53 657.61,79.88 657.86,79.23 658.12,78.58 658.36,77.93 658.61,77.27 658.85,76.62 659.08,75.96 659.32,75.31 659.54,74.65 659.77,73.99 659.99,73.33 660.20,72.66 660.41,72.00 660.62,71.33 660.82,70.67 661.02,70.00 661.21,69.32 661.39,68.65 661.57,67.97 661.74,67.30 661.91,66.62 662.07,65.93 662.23,65.25 662.38,64.56 662.52,63.87 662.65,63.18" fill="none" stroke="#9c4c84" stroke-width="1.40" stroke-linejoin="round" stroke-linecap="butt"/>
<path d="M454.35,239.97 454.89,239.51 455.42,239.04 455.94,238.56 456.45,238.07 456.95,237.58 457.44,237.08 457.92,236.57 458.40,236.05 458.86,235.53 459.31,235.00 459.75,234.46 460.18,233.91 460.60,233.36 461.01,232.79 461.41,232.23 461.80,231.65 462.17,231.07 462.54,230.48 462.89,229.88 463.24,229.28 463.57,228.67 463.89,228.05 464.19,227.43 464.49,226.80 464.77,226.17 465.05,225.53 465.31,224.89 465.57,224.24 465.82,223.59 466.06,222.93 466.29,222.27 466.51,221.61 466.73,220.94 466.94,220.27 467.15,219.60 467.35,218.93 467.55,218.26 467.75,217.58 467.94,216.91 468.13,216.23 468.31,215.56 468.50,214.88 468.68,214.21 468.86,213.53 469.03,212.85 469.20,212.17 469.37,211.50 469.53,210.82 469.69,210.14 469.85,209.46 470.00,208.78 470.16,208.10 470.30,207.42 470.45,206.73 470.59,206.05 470.72,205.37 470.86,204.68 470.99,204.00 471.11,203.31 471.24,202.63 471.36,201.94 471.47,201.25 471.59,200.56 471.70,199.87 471.81,199.18 471.92,198.49 472.02,197.80 472.13,197.11 472.24,196.42 472.35,195.73 472.45,195.03 472.56,194.34 472.67,193.65 472.78,192.95 472.89,192.26 473.01,191.56 473.13,190.86 473.25,190.17 473.37,189.47 473.50,188.77 473.63,188.08 473.77,187.38 473.92,186.69 474.08,186.00 474.25,185.32 474.43,184.65 474.63,183.98 474.85,183.32 475.09,182.66 475.35,182.02 475.63,181.40 475.93,180.78 476.25,180.17 476.59,179.58 476.95,179.01 477.34,178.45 477.75,177.91 478.18,177.38 478.63,176.88 479.10,176.39 479.60,175.92 480.11,175.46 480.64,175.03 481.19,174.60 481.75,174.20 482.33,173.81 482.92,173.43 483.52,173.06 484.13,172.71 484.76,172.36 485.39,172.03 486.03,171.71 486.68,171.40 487.33,171.10 487.98,170.81 488.64,170.52 489.30,170.24 489.96,169.97 490.63,169.70 491.29,169.44 491.94,169.18 492.60,168.93 493.26,168.68 493.92,168.43 494.57,168.18 495.22,167.93 495.87,167.68 496.52,167.43 497.17,167.17 497.81,166.92 498.46,166.65 499.10,166.39 499.73,166.12 500.37,165.84 501.00,165.55 501.63,165.26 502.26,164.97 502.89,164.67 503.51,164.37 504.14,164.07 504.76,163.76 505.39,163.46 506.01,163.15 506.64,162.85 507.26,162.55 507.89,162.25 508.52,161.95 509.15,161.66 509.78,161.37 510.42,161.08 511.05,160.80 511.69,160.52 512.33,160.25 512.97,159.98 513.61,159.71 514.25,159.44 514.90,159.18 515.55,158.91 516.20,158.65 516.85,158.40 517.50,158.14 518.15,157.89 518.80,157.64 519.46,157.39 520.11,157.14 520.77,156.89 521.42,156.65 522.08,156.40 522.74,156.16 523.40,155.91 524.06,155.67 524.72,155.43 525.37,155.19 526.03,154.94 526.69,154.70 527.35,154.46 528.01,154.22 528.67,153.97 529.33,153.73 529.99,153.49 530.65,153.24 531.31,153.00 531.96,152.75 532.62,152.50 533.28,152.25 533.93,152.00 534.59,151.75 535.24,151.49 535.89,151.23 536.54,150.97 537.19,150.71 537.84,150.45 538.49,150.18 539.13,149.91 539.77,149.64 540.42,149.37 541.06,149.09 541.69,148.81 542.33,148.52 542.96,148.23 543.60,147.94 544.23,147.64 544.85,147.34 545.48,147.04 546.10,146.73 546.72,146.42 547.34,146.10 547.95,145.78 548.56,145.45 549.17,145.12 549.78,144.78 550.38,144.44 550.98,144.09 551.58,143.73 552.17,143.37 552.76,143.01 553.35,142.64 553.93,142.26 554.51,141.87 555.08,141.48 555.66,141.09 556.22,140.68 556.79,140.27 557.35,139.86 557.91,139.44 558.46,139.01 559.01,138.58 559.56,138.15 560.11,137.71 560.65,137.26 561.19,136.82 561.73,136.37 562.27,135.91 562.80,135.46 563.34,135.00 563.87,134.53 564.39,134.07 564.92,133.60 565.45,133.14 565.97,132.67 566.50,132.20 567.02,131.72 567.54,131.25 568.06,130.78 568.58,130.30 569.09,129.83 569.61,129.35 570.12,128.87 570.63,128.39 571.14,127.91 571.64,127.42 572.15,126.94 572.65,126.45 573.14,125.95 573.63,125.46 574.12,124.96 574.61,124.46 575.09,123.96 575.57,123.45 576.04,122.94 576.51,122.42 576.97,121.90 577.43,121.38 577.89,120.85 578.33,120.32 578.78,119.79 579.22,119.25 579.65,118.70 580.07,118.16 580.50,117.60 580.91,117.05 581.32,116.49 581.73,115.92 582.13,115.35 582.53,114.78 582.92,114.20 583.30,113.62 583.68,113.04 584.06,112.45 584.43,111.86 584.80,111.27 585.16,110.67 585.51,110.08 585.86,109.47 586.21,108.87 586.55,108.26 586.89,107.64 587.22,107.03 587.55,106.41 587.87,105.79 588.19,105.17 588.50,104.54 588.81,103.92 589.11,103.29 589.41,102.65 589.71,102.02 590.00,101.38 590.28,100.74 590.57,100.10 590.84,99.46 591.12,98.81 591.39,98.17 591.65,97.52 591.91,96.87 592.17,96.21 592.42,95.56 592.66,94.91 592.91,94.25 593.15,93.59 593.38,92.93 593.61,92.27 593.84,91.61 594.06,90.95 594.28,90.29 594.50,89.62 594.71,88.96 594.92,88.29 595.12,87.62 595.33,86.95 595.53,86.28 595.72,85.61 595.91,84.94 596.10,84.27 596.29,83.60 596.48,82.93 596.66,82.25 596.84,81.58 597.01,80.90 597.19,80.23 597.36,79.55 597.53,78.87 597.70,78.20 597.87,77.52 598.03,76.84 598.19,76.16 598.36,75.48 598.52,74.80 598.68,74.12 598.83,73.44 598.99,72.76 599.14,72.08 599.30,71.39 599.45,70.71 599.61,70.03 599.76,69.35 599.91,68.67 600.06,67.98 600.21,67.30 600.36,66.62 600.51,65.93 600.66,65.25 600.81,64.57 600.97,63.89 601.12,63.20" fill="none" stroke="#45a074" stroke-width="1.40" stroke-linejoin="round" stroke-linecap="butt"/>
<path d="M454.37,239.30 454.93,238.83 455.48,238.35 456.01,237.86 456.53,237.36 457.03,236.85 457.52,236.33 457.99,235.80 458.44,235.26 458.88,234.72 459.31,234.17 459.73,233.61 460.13,233.04 460.52,232.47 460.90,231.88 461.26,231.29 461.62,230.70 461.96,230.10 462.29,229.49 462.61,228.88 462.92,228.26 463.22,227.63 463.51,227.00 463.79,226.37 464.06,225.73 464.32,225.08 464.58,224.44 464.83,223.78 465.07,223.13 465.30,222.47 465.52,221.80 465.74,221.14 465.95,220.47 466.16,219.80 466.36,219.12 466.55,218.45 466.74,217.77 466.93,217.09 467.11,216.41 467.28,215.72 467.46,215.04 467.63,214.36 467.79,213.67 467.96,212.98 468.12,212.30 468.28,211.61 468.44,210.93 468.59,210.24 468.75,209.56 468.90,208.88 469.06,208.19 469.21,207.51 469.36,206.83 469.51,206.15 469.65,205.46 469.80,204.78 469.94,204.10 470.08,203.42 470.22,202.74 470.36,202.06 470.49,201.37 470.62,200.69 470.76,200.01 470.88,199.33 471.01,198.64 471.13,197.96 471.26,197.28 471.38,196.59 471.49,195.91 471.61,195.22 471.72,194.54 471.83,193.85 471.93,193.16 472.04,192.47 472.14,191.78 472.23,191.09 472.33,190.40 472.42,189.71 472.51,189.02 472.59,188.32 472.68,187.62 472.76,186.93 472.83,186.23 472.90,185.53 472.97,184.82 473.04,184.12 473.10,183.42 473.16,182.71 473.21,182.00 473.26,181.29 473.31,180.58 473.35,179.86 473.39,179.15 473.43,178.43 473.48,177.72 473.52,177.00 473.57,176.29 473.63,175.58 473.69,174.87 473.76,174.17 473.84,173.47 473.94,172.77 474.04,172.08 474.17,171.40 474.31,170.72 474.46,170.05 474.64,169.39 474.84,168.74 475.06,168.09 475.30,167.46 475.57,166.84 475.85,166.22 476.16,165.61 476.48,165.01 476.83,164.42 477.19,163.84 477.56,163.27 477.95,162.70 478.35,162.14 478.77,161.58 479.19,161.03 479.63,160.49 480.07,159.95 480.52,159.42 480.98,158.90 481.45,158.37 481.92,157.86 482.39,157.34 482.87,156.83 483.35,156.33 483.84,155.83 484.33,155.33 484.82,154.84 485.32,154.35 485.82,153.86 486.33,153.38 486.84,152.90 487.35,152.43 487.86,151.95 488.38,151.48 488.90,151.02 489.43,150.55 489.95,150.09 490.48,149.63 491.02,149.18 491.55,148.72 492.09,148.27 492.63,147.82 493.17,147.38 493.71,146.93 494.26,146.49 494.80,146.05 495.35,145.61 495.90,145.17 496.45,144.74 497.00,144.30 497.56,143.87 498.11,143.44 498.67,143.01 499.22,142.58 499.78,142.15 500.33,141.72 500.89,141.29 501.45,140.86 502.01,140.44 502.56,140.01 503.12,139.58 503.68,139.16 504.23,138.73 504.79,138.30 505.34,137.87 505.90,137.44 506.45,137.01 507.00,136.58 507.55,136.14 508.09,135.71 508.64,135.27 509.18,134.83 509.72,134.39 510.26,133.94 510.80,133.49 511.33,133.04 511.86,132.59 512.38,132.13 512.91,131.67 513.43,131.21 513.94,130.74 514.45,130.26 514.96,129.79 515.46,129.31 515.96,128.82 516.46,128.33 516.95,127.83 517.43,127.33 517.92,126.83 518.39,126.32 518.86,125.80 519.33,125.28 519.79,124.76 520.25,124.23 520.70,123.70 521.15,123.16 521.59,122.62 522.03,122.07 522.46,121.53 522.89,120.97 523.32,120.41 523.73,119.85 524.15,119.29 524.56,118.72 524.96,118.15 525.36,117.57 525.75,116.99 526.14,116.41 526.53,115.82 526.91,115.23 527.28,114.64 527.65,114.05 528.01,113.45 528.37,112.85 528.72,112.24 529.07,111.63 529.41,111.02 529.75,110.41 530.09,109.79 530.41,109.18 530.73,108.56 531.05,107.93 531.36,107.31 531.67,106.68 531.97,106.05 532.27,105.42 532.56,104.78 532.84,104.15 533.13,103.51 533.40,102.87 533.67,102.22 533.94,101.58 534.20,100.93 534.46,100.29 534.72,99.64 534.97,98.99 535.21,98.33 535.46,97.68 535.70,97.02 535.93,96.36 536.16,95.70 536.39,95.04 536.61,94.38 536.84,93.72 537.05,93.05 537.27,92.39 537.48,91.72 537.69,91.05 537.90,90.38 538.10,89.71 538.30,89.04 538.50,88.37 538.69,87.70 538.89,87.02 539.08,86.35 539.27,85.67 539.45,85.00 539.64,84.32 539.82,83.64 540.00,82.97 540.18,82.29 540.36,81.61 540.54,80.93 540.71,80.25 540.89,79.57 541.06,78.89 541.23,78.21 541.40,77.53 541.57,76.85 541.74,76.17 541.91,75.49 542.08,74.81 542.24,74.13 542.41,73.45 542.58,72.77 542.74,72.09 542.91,71.41 543.08,70.73 543.24,70.05 543.41,69.37 543.58,68.69 543.75,68.02 543.91,67.34 544.08,66.66 544.25,65.99 544.42,65.31 544.59,64.64 544.77,63.96 544.94,63.29 545.11,62.62" fill="none" stroke="#0c0c90" stroke-width="1.40" stroke-linejoin="round" stroke-linecap="butt"/>
</g>
<rect x="726.5" y="194.5" width="47" height="48" fill="#fff" stroke="#333" stroke-width="1"/>
<line x1="735.20" y1="199.60" x2="746.90" y2="199.60" stroke="#0a0a80" stroke-width="1.40"/>
<text x="747.00" y="202.20" font-size="7.60" font-weight="bold" text-anchor="start" fill="#000" textLength="17.50" lengthAdjust="spacingAndGlyphs">-25 C</text>
<line x1="735.20" y1="209.20" x2="746.90" y2="209.20" stroke="#5fae87" stroke-width="1.80"/>
<text x="747.00" y="211.80" font-size="7.60" font-weight="bold" text-anchor="start" fill="#000" textLength="10.50" lengthAdjust="spacingAndGlyphs">0 C</text>
<line x1="735.20" y1="218.80" x2="746.90" y2="218.80" stroke="#a0608a" stroke-width="1.80"/>
<text x="747.00" y="221.40" font-size="7.60" font-weight="bold" text-anchor="start" fill="#000" textLength="17.30" lengthAdjust="spacingAndGlyphs">+25 C</text>
<line x1="735.20" y1="228.40" x2="746.90" y2="228.40" stroke="#ffa020" stroke-width="1.60"/>
<text x="747.00" y="231.00" font-size="7.60" font-weight="bold" text-anchor="start" fill="#000" textLength="17.30" lengthAdjust="spacingAndGlyphs">+50 C</text>
<line x1="735.20" y1="238.00" x2="746.90" y2="238.00" stroke="#ff7070" stroke-width="1.80"/>
<text x="747.00" y="240.60" font-size="7.60" font-weight="bold" text-anchor="start" fill="#000" textLength="17.30" lengthAdjust="spacingAndGlyphs">+75 C</text>
<line x1="51.20" y1="394.80" x2="380.20" y2="394.80" stroke="#000" stroke-width="1.20"/>
<line x1="51.20" y1="420.46" x2="380.20" y2="420.46" stroke="#000" stroke-width="1.20"/>
<line x1="51.20" y1="446.11" x2="380.20" y2="446.11" stroke="#000" stroke-width="1.20"/>
<line x1="51.20" y1="471.77" x2="380.20" y2="471.77" stroke="#000" stroke-width="1.20"/>
<line x1="51.20" y1="497.43" x2="380.20" y2="497.43" stroke="#000" stroke-width="1.20"/>
<line x1="51.20" y1="523.09" x2="380.20" y2="523.09" stroke="#000" stroke-width="1.20"/>
<line x1="51.20" y1="548.74" x2="380.20" y2="548.74" stroke="#000" stroke-width="1.20"/>
<line x1="117.00" y1="394.80" x2="117.00" y2="574.40" stroke="#000" stroke-width="1.20"/>
<line x1="182.80" y1="394.80" x2="182.80" y2="574.40" stroke="#000" stroke-width="1.20"/>
<line x1="248.60" y1="394.80" x2="248.60" y2="574.40" stroke="#000" stroke-width="1.20"/>
<line x1="314.40" y1="394.80" x2="314.40" y2="574.40" stroke="#000" stroke-width="1.20"/>
<line x1="380.20" y1="394.80" x2="380.20" y2="574.40" stroke="#000" stroke-width="1.20"/>
<line x1="51.20" y1="394.80" x2="51.20" y2="575.40" stroke="#000" stroke-width="1.50"/>
<line x1="50.20" y1="574.40" x2="381.20" y2="574.40" stroke="#000" stroke-width="1.50"/>
<line x1="48.20" y1="574.40" x2="51.20" y2="574.40" stroke="#000" stroke-width="1.00"/>
<text x="44.60" y="576.70" font-size="6.40" font-weight="bold" text-anchor="end" fill="#000">0</text>
<line x1="48.20" y1="548.74" x2="51.20" y2="548.74" stroke="#000" stroke-width="1.00"/>
<text x="44.60" y="551.04" font-size="6.40" font-weight="bold" text-anchor="end" fill="#000">2</text>
<line x1="48.20" y1="523.09" x2="51.20" y2="523.09" stroke="#000" stroke-width="1.00"/>
<text x="44.60" y="525.39" font-size="6.40" font-weight="bold" text-anchor="end" fill="#000">4</text>
<line x1="48.20" y1="497.43" x2="51.20" y2="497.43" stroke="#000" stroke-width="1.00"/>
<text x="44.60" y="499.73" font-size="6.40" font-weight="bold" text-anchor="end" fill="#000">6</text>
<line x1="48.20" y1="471.77" x2="51.20" y2="471.77" stroke="#000" stroke-width="1.00"/>
<text x="44.60" y="474.07" font-size="6.40" font-weight="bold" text-anchor="end" fill="#000">8</text>
<line x1="48.20" y1="446.11" x2="51.20" y2="446.11" stroke="#000" stroke-width="1.00"/>
<text x="44.60" y="448.41" font-size="6.40" font-weight="bold" text-anchor="end" fill="#000">10</text>
<line x1="48.20" y1="420.46" x2="51.20" y2="420.46" stroke="#000" stroke-width="1.00"/>
<text x="44.60" y="422.76" font-size="6.40" font-weight="bold" text-anchor="end" fill="#000">12</text>
<line x1="48.20" y1="394.80" x2="51.20" y2="394.80" stroke="#000" stroke-width="1.00"/>
<text x="44.60" y="397.10" font-size="6.40" font-weight="bold" text-anchor="end" fill="#000">14</text>
<line x1="51.20" y1="574.40" x2="51.20" y2="577.40" stroke="#000" stroke-width="1.00"/>
<text x="51.20" y="587.00" font-size="6.40" font-weight="bold" text-anchor="middle" fill="#000">0</text>
<line x1="117.00" y1="574.40" x2="117.00" y2="577.40" stroke="#000" stroke-width="1.00"/>
<text x="117.00" y="587.00" font-size="6.40" font-weight="bold" text-anchor="middle" fill="#000">50</text>
<line x1="182.80" y1="574.40" x2="182.80" y2="577.40" stroke="#000" stroke-width="1.00"/>
<text x="182.80" y="587.00" font-size="6.40" font-weight="bold" text-anchor="middle" fill="#000">100</text>
<line x1="248.60" y1="574.40" x2="248.60" y2="577.40" stroke="#000" stroke-width="1.00"/>
<text x="248.60" y="587.00" font-size="6.40" font-weight="bold" text-anchor="middle" fill="#000">150</text>
<line x1="314.40" y1="574.40" x2="314.40" y2="577.40" stroke="#000" stroke-width="1.00"/>
<text x="314.40" y="587.00" font-size="6.40" font-weight="bold" text-anchor="middle" fill="#000">200</text>
<line x1="380.20" y1="574.40" x2="380.20" y2="577.40" stroke="#000" stroke-width="1.00"/>
<text x="380.20" y="587.00" font-size="6.40" font-weight="bold" text-anchor="middle" fill="#000">250</text>
<text x="217.40" y="602.60" font-size="8.20" font-weight="bold" text-anchor="middle" fill="#000" textLength="61.10" lengthAdjust="spacingAndGlyphs">Bias Voltage (V)</text>
<g transform="translate(26.9,487.5) rotate(-90)">
<text x="0.00" y="0.00" font-size="9.40" font-weight="normal" text-anchor="middle" fill="#000" textLength="65.90" lengthAdjust="spacingAndGlyphs" stroke="#000" stroke-width="0.3">Capacitance (pF)</text>
</g>
<path d="M59.20,394.52 59.54,395.16 59.89,395.79 60.24,396.41 60.59,397.04 60.94,397.66 61.30,398.27 61.66,398.89 62.03,399.50 62.40,400.11 62.77,400.71 63.14,401.31 63.52,401.91 63.91,402.50 64.29,403.10 64.68,403.68 65.07,404.27 65.46,404.85 65.86,405.43 66.26,406.01 66.67,406.59 67.07,407.16 67.48,407.73 67.89,408.29 68.31,408.86 68.73,409.42 69.15,409.98 69.57,410.54 70.00,411.09 70.42,411.64 70.86,412.19 71.29,412.74 71.73,413.28 72.16,413.82 72.60,414.36 73.05,414.90 73.49,415.44 73.94,415.97 74.39,416.50 74.84,417.03 75.30,417.56 75.76,418.08 76.22,418.61 76.68,419.13 77.14,419.65 77.60,420.17 78.07,420.68 78.54,421.20 79.01,421.71 79.48,422.22 79.96,422.73 80.43,423.23 80.91,423.74 81.39,424.25 81.87,424.75 82.36,425.25 82.84,425.75 83.33,426.25 83.81,426.75 84.30,427.24 84.79,427.74 85.29,428.23 85.78,428.72 86.27,429.21 86.77,429.70 87.26,430.19 87.76,430.68 88.26,431.17 88.76,431.65 89.26,432.14 89.77,432.62 90.27,433.10 90.77,433.59 91.28,434.07 91.79,434.55 92.29,435.03 92.80,435.51 93.31,435.99 93.82,436.46 94.33,436.94 94.84,437.42 95.35,437.89 95.86,438.37 96.37,438.85 96.89,439.32 97.40,439.80 97.91,440.27 98.43,440.74 98.94,441.22 99.45,441.69 99.97,442.17 100.48,442.64 101.00,443.11 101.51,443.59 102.03,444.06 102.54,444.53 103.06,445.01 103.58,445.48 104.09,445.95 104.61,446.43 105.12,446.90 105.64,447.38 106.15,447.85 106.67,448.33 107.18,448.80 107.69,449.28 108.21,449.75 108.72,450.23 109.23,450.71 109.74,451.19 110.26,451.66 110.77,452.14 111.28,452.62 111.79,453.10 112.30,453.58 112.80,454.07 113.31,454.55 113.82,455.03 114.33,455.52 114.83,456.00 115.33,456.49 115.84,456.98 116.34,457.46 116.84,457.95 117.34,458.44 117.84,458.93 118.34,459.43 118.83,459.92 119.33,460.42 119.82,460.91 120.32,461.41 120.81,461.91 121.30,462.41 121.79,462.91 122.27,463.42 122.76,463.92 123.24,464.43 123.72,464.94 124.20,465.45 124.68,465.96 125.15,466.48 125.62,467.00 126.09,467.52 126.55,468.04 127.01,468.56 127.46,469.09 127.91,469.62 128.35,470.16 128.79,470.69 129.23,471.24 129.66,471.78 130.08,472.33 130.50,472.88 130.91,473.43 131.31,473.99 131.71,474.56 132.10,475.12 132.49,475.69 132.87,476.27 133.24,476.85 133.60,477.44 133.95,478.02 134.30,478.62 134.63,479.22 134.96,479.82 135.28,480.43 135.59,481.05 135.89,481.67 136.18,482.29 136.46,482.93 136.73,483.56 136.99,484.21 137.24,484.85 137.48,485.51 137.72,486.16 137.94,486.83 138.15,487.49 138.36,488.16 138.56,488.84 138.74,489.51 138.92,490.20 139.09,490.88 139.26,491.57 139.41,492.26 139.56,492.95 139.70,493.65 139.84,494.34 139.96,495.04 140.08,495.75 140.19,496.45 140.30,497.15 140.40,497.86 140.49,498.56 140.58,499.27 140.66,499.98 140.73,500.68 140.80,501.39 140.87,502.10 140.93,502.81 140.98,503.51 141.03,504.22 141.07,504.92 141.11,505.63 141.15,506.33 141.18,507.03 141.21,507.73 141.23,508.43 141.25,509.12 141.27,509.82 141.28,510.52 141.29,511.22 141.30,511.91 141.31,512.61 141.32,513.30 141.32,514.00 141.33,514.70 141.33,515.39 141.33,516.09 141.34,516.79 141.34,517.49 141.34,518.19 141.34,518.89 141.35,519.59 141.35,520.29 141.36,521.00 141.37,521.70 141.38,522.41 141.39,523.12 141.40,523.83 141.42,524.54 141.44,525.25 141.47,525.97 141.49,526.69 141.52,527.41 141.56,528.13 141.60,528.86 141.64,529.58 141.69,530.31 141.75,531.03 141.82,531.75 141.90,532.47 141.98,533.18 142.08,533.89 142.19,534.60 142.31,535.29 142.44,535.98 142.58,536.66 142.74,537.33 142.92,537.98 143.11,538.63 143.32,539.26 143.54,539.88 143.79,540.49 144.05,541.07 144.33,541.65 144.64,542.20 144.96,542.74 145.31,543.25 145.68,543.75 146.07,544.23 146.49,544.68 146.94,545.11 147.41,545.52 147.90,545.90 148.41,546.27 148.95,546.61 149.50,546.93 150.08,547.24 150.67,547.52 151.28,547.79 151.90,548.04 152.54,548.27 153.19,548.49 153.85,548.69 154.52,548.88 155.20,549.05 155.89,549.21 156.59,549.36 157.30,549.49 158.00,549.62 158.71,549.73 159.43,549.83 160.14,549.93 160.86,550.02 161.58,550.09 162.30,550.16 163.02,550.23 163.74,550.28 164.47,550.33 165.19,550.37 165.92,550.41 166.64,550.44 167.37,550.47 168.09,550.49 168.82,550.51 169.54,550.53 170.27,550.54 170.99,550.56 171.72,550.57 172.44,550.57 173.16,550.58 173.88,550.59 174.60,550.60 175.32,550.60 176.03,550.61 176.74,550.62 177.46,550.63 178.17,550.64 178.88,550.65 179.58,550.66 180.29,550.67 181.00,550.69 181.70,550.70 182.40,550.71 183.10,550.73 183.80,550.74 184.50,550.76 185.20,550.77 185.90,550.79 186.60,550.80 187.29,550.82 187.99,550.84 188.68,550.85 189.37,550.87 190.07,550.89 190.76,550.91 191.45,550.92 192.14,550.94 192.84,550.96 193.53,550.98 194.22,550.99 194.91,551.01 195.60,551.03 196.29,551.05 196.98,551.07 197.67,551.08 198.36,551.10 199.05,551.12 199.74,551.14 200.43,551.15 201.13,551.17 201.82,551.19 202.51,551.20 203.20,551.22 203.89,551.23 204.59,551.25 205.28,551.26 205.97,551.28 206.67,551.29 207.36,551.31 208.06,551.32 208.75,551.34 209.45,551.35 210.14,551.36 210.83,551.38 211.53,551.39 212.23,551.40 212.92,551.42 213.62,551.43 214.31,551.44 215.01,551.46 215.71,551.47 216.40,551.48 217.10,551.49 217.80,551.50 218.49,551.52 219.19,551.53 219.89,551.54 220.59,551.55 221.29,551.56 221.98,551.57 222.68,551.58 223.38,551.59 224.08,551.60 224.78,551.61 225.48,551.62 226.18,551.63 226.87,551.64 227.57,551.65 228.27,551.66 228.97,551.67 229.67,551.68 230.37,551.69 231.07,551.70 231.77,551.71 232.47,551.72 233.17,551.73 233.87,551.74 234.57,551.75 235.27,551.76 235.97,551.76 236.67,551.77 237.37,551.78 238.07,551.79 238.78,551.80 239.48,551.81 240.18,551.81 240.88,551.82 241.58,551.83 242.28,551.84 242.98,551.85 243.68,551.86 244.38,551.86 245.08,551.87 245.78,551.88 246.49,551.89 247.19,551.89 247.89,551.90 248.59,551.91 249.29,551.92 249.99,551.93 250.69,551.93 251.39,551.94 252.09,551.95 252.79,551.96 253.50,551.96 254.20,551.97 254.90,551.98 255.60,551.99 256.30,552.00 257.00,552.00 257.70,552.01 258.40,552.02 259.10,552.03 259.80,552.04 260.50,552.04 261.20,552.05 261.90,552.06 262.60,552.07 263.30,552.08 264.00,552.08 264.70,552.09 265.40,552.10 266.10,552.11 266.80,552.12 267.50,552.12 268.20,552.13 268.90,552.14 269.60,552.15 270.30,552.16 271.00,552.16 271.70,552.17 272.40,552.18 273.10,552.19 273.80,552.20 274.50,552.21 275.20,552.21 275.90,552.22 276.60,552.23 277.29,552.24 277.99,552.25 278.69,552.26 279.39,552.26 280.09,552.27 280.79,552.28 281.49,552.29 282.19,552.30 282.89,552.31 283.58,552.31 284.28,552.32 284.98,552.33 285.68,552.34 286.38,552.35 287.08,552.36 287.78,552.36 288.48,552.37 289.17,552.38 289.87,552.39 290.57,552.40 291.27,552.41 291.97,552.41 292.67,552.42 293.37,552.43 294.06,552.44 294.76,552.45 295.46,552.46 296.16,552.47 296.86,552.47 297.56,552.48 298.25,552.49 298.95,552.50 299.65,552.51 300.35,552.52 301.05,552.52 301.74,552.53 302.44,552.54 303.14,552.55 303.84,552.56 304.54,552.56 305.24,552.57 305.93,552.58 306.63,552.59 307.33,552.60 308.03,552.61 308.73,552.61 309.42,552.62 310.12,552.63 310.82,552.64 311.52,552.65 312.22,552.65 312.91,552.66 313.61,552.67 314.31,552.68 315.01,552.69 315.71,552.70 316.40,552.70 317.10,552.71 317.80,552.72 318.50,552.73 319.20,552.73 319.89,552.74 320.59,552.75 321.29,552.76 321.99,552.77 322.69,552.77 323.38,552.78 324.08,552.79 324.78,552.80 325.48,552.80 326.18,552.81 326.87,552.82 327.57,552.83 328.27,552.84 328.97,552.84 329.67,552.85 330.37,552.86 331.06,552.87 331.76,552.87 332.46,552.88 333.16,552.89 333.86,552.89 334.56,552.90 335.25,552.91 335.95,552.92 336.65,552.92 337.35,552.93 338.05,552.94 338.75,552.94 339.44,552.95 340.14,552.96 340.84,552.97 341.54,552.97 342.24,552.98 342.94,552.99 343.64,552.99 344.33,553.00 345.03,553.01 345.73,553.01 346.43,553.02 347.13,553.03 347.83,553.03 348.53,553.04 349.23,553.05 349.93,553.05 350.62,553.06 351.32,553.06 352.02,553.07 352.72,553.08 353.42,553.08 354.12,553.09 354.82,553.09 355.52,553.10 356.22,553.11 356.92,553.11 357.62,553.12 358.32,553.12 359.02,553.13 359.72,553.14 360.41,553.14 361.11,553.15 361.81,553.15 362.51,553.16 363.21,553.16 363.91,553.17 364.61,553.17 365.31,553.18 366.01,553.18 366.71,553.19 367.41,553.19 368.11,553.20 368.81,553.20 369.51,553.21 370.22,553.21 370.92,553.22 371.62,553.22 372.32,553.23 373.02,553.23 373.72,553.24 374.42,553.24 375.12,553.24 375.82,553.25 376.52,553.25 377.22,553.26 377.92,553.26 378.62,553.26 379.33,553.27 380.03,553.27" fill="none" stroke="#1a1a8c" stroke-width="1.40" stroke-linejoin="round" stroke-linecap="butt"/>
<line x1="456.50" y1="556.08" x2="775.50" y2="556.08" stroke="#000" stroke-width="1.00"/>
<line x1="456.50" y1="545.30" x2="775.50" y2="545.30" stroke="#000" stroke-width="1.00"/>
<line x1="456.50" y1="537.65" x2="775.50" y2="537.65" stroke="#000" stroke-width="1.00"/>
<line x1="456.50" y1="531.72" x2="775.50" y2="531.72" stroke="#000" stroke-width="1.00"/>
<line x1="456.50" y1="526.88" x2="775.50" y2="526.88" stroke="#000" stroke-width="1.00"/>
<line x1="456.50" y1="522.78" x2="775.50" y2="522.78" stroke="#000" stroke-width="1.00"/>
<line x1="456.50" y1="519.23" x2="775.50" y2="519.23" stroke="#000" stroke-width="1.00"/>
<line x1="456.50" y1="516.10" x2="775.50" y2="516.10" stroke="#000" stroke-width="1.00"/>
<line x1="456.50" y1="513.30" x2="775.50" y2="513.30" stroke="#000" stroke-width="1.00"/>
<line x1="456.50" y1="494.88" x2="775.50" y2="494.88" stroke="#000" stroke-width="1.00"/>
<line x1="456.50" y1="484.10" x2="775.50" y2="484.10" stroke="#000" stroke-width="1.00"/>
<line x1="456.50" y1="476.45" x2="775.50" y2="476.45" stroke="#000" stroke-width="1.00"/>
<line x1="456.50" y1="470.52" x2="775.50" y2="470.52" stroke="#000" stroke-width="1.00"/>
<line x1="456.50" y1="465.68" x2="775.50" y2="465.68" stroke="#000" stroke-width="1.00"/>
<line x1="456.50" y1="461.58" x2="775.50" y2="461.58" stroke="#000" stroke-width="1.00"/>
<line x1="456.50" y1="458.03" x2="775.50" y2="458.03" stroke="#000" stroke-width="1.00"/>
<line x1="456.50" y1="454.90" x2="775.50" y2="454.90" stroke="#000" stroke-width="1.00"/>
<line x1="456.50" y1="452.10" x2="775.50" y2="452.10" stroke="#000" stroke-width="1.00"/>
<line x1="456.50" y1="433.68" x2="775.50" y2="433.68" stroke="#000" stroke-width="1.00"/>
<line x1="456.50" y1="422.90" x2="775.50" y2="422.90" stroke="#000" stroke-width="1.00"/>
<line x1="456.50" y1="415.25" x2="775.50" y2="415.25" stroke="#000" stroke-width="1.00"/>
<line x1="456.50" y1="409.32" x2="775.50" y2="409.32" stroke="#000" stroke-width="1.00"/>
<line x1="456.50" y1="404.48" x2="775.50" y2="404.48" stroke="#000" stroke-width="1.00"/>
<line x1="456.50" y1="400.38" x2="775.50" y2="400.38" stroke="#000" stroke-width="1.00"/>
<line x1="456.50" y1="396.83" x2="775.50" y2="396.83" stroke="#000" stroke-width="1.00"/>
<line x1="456.50" y1="393.70" x2="775.50" y2="393.70" stroke="#000" stroke-width="1.00"/>
<line x1="456.50" y1="390.90" x2="775.50" y2="390.90" stroke="#000" stroke-width="1.00"/>
<line x1="504.51" y1="390.90" x2="504.51" y2="574.50" stroke="#000" stroke-width="1.00"/>
<line x1="532.60" y1="390.90" x2="532.60" y2="574.50" stroke="#000" stroke-width="1.00"/>
<line x1="552.53" y1="390.90" x2="552.53" y2="574.50" stroke="#000" stroke-width="1.00"/>
<line x1="567.99" y1="390.90" x2="567.99" y2="574.50" stroke="#000" stroke-width="1.00"/>
<line x1="580.62" y1="390.90" x2="580.62" y2="574.50" stroke="#000" stroke-width="1.00"/>
<line x1="591.29" y1="390.90" x2="591.29" y2="574.50" stroke="#000" stroke-width="1.00"/>
<line x1="600.54" y1="390.90" x2="600.54" y2="574.50" stroke="#000" stroke-width="1.00"/>
<line x1="608.70" y1="390.90" x2="608.70" y2="574.50" stroke="#000" stroke-width="1.00"/>
<line x1="616.00" y1="390.90" x2="616.00" y2="574.50" stroke="#000" stroke-width="1.00"/>
<line x1="664.01" y1="390.90" x2="664.01" y2="574.50" stroke="#000" stroke-width="1.00"/>
<line x1="692.10" y1="390.90" x2="692.10" y2="574.50" stroke="#000" stroke-width="1.00"/>
<line x1="712.03" y1="390.90" x2="712.03" y2="574.50" stroke="#000" stroke-width="1.00"/>
<line x1="727.49" y1="390.90" x2="727.49" y2="574.50" stroke="#000" stroke-width="1.00"/>
<line x1="740.12" y1="390.90" x2="740.12" y2="574.50" stroke="#000" stroke-width="1.00"/>
<line x1="750.79" y1="390.90" x2="750.79" y2="574.50" stroke="#000" stroke-width="1.00"/>
<line x1="760.04" y1="390.90" x2="760.04" y2="574.50" stroke="#000" stroke-width="1.00"/>
<line x1="768.20" y1="390.90" x2="768.20" y2="574.50" stroke="#000" stroke-width="1.00"/>
<line x1="775.50" y1="390.90" x2="775.50" y2="574.50" stroke="#000" stroke-width="1.00"/>
<line x1="456.50" y1="390.90" x2="456.50" y2="575.50" stroke="#000" stroke-width="1.50"/>
<line x1="455.50" y1="574.50" x2="776.50" y2="574.50" stroke="#000" stroke-width="1.50"/>
<line x1="453.50" y1="574.50" x2="456.50" y2="574.50" stroke="#000" stroke-width="1.00"/>
<text x="450.70" y="576.80" font-size="6.40" font-weight="bold" text-anchor="end" fill="#000">0,01</text>
<line x1="453.50" y1="513.30" x2="456.50" y2="513.30" stroke="#000" stroke-width="1.00"/>
<text x="450.70" y="515.60" font-size="6.40" font-weight="bold" text-anchor="end" fill="#000">0,10</text>
<line x1="453.50" y1="452.10" x2="456.50" y2="452.10" stroke="#000" stroke-width="1.00"/>
<text x="450.70" y="454.40" font-size="6.40" font-weight="bold" text-anchor="end" fill="#000">1,00</text>
<line x1="453.50" y1="390.90" x2="456.50" y2="390.90" stroke="#000" stroke-width="1.00"/>
<text x="450.70" y="393.20" font-size="6.40" font-weight="bold" text-anchor="end" fill="#000">10,00</text>
<line x1="456.50" y1="574.50" x2="456.50" y2="577.50" stroke="#000" stroke-width="1.00"/>
<text x="456.50" y="586.80" font-size="6.40" font-weight="bold" text-anchor="middle" fill="#000">10</text>
<line x1="616.00" y1="574.50" x2="616.00" y2="577.50" stroke="#000" stroke-width="1.00"/>
<text x="616.00" y="586.80" font-size="6.40" font-weight="bold" text-anchor="middle" fill="#000">100</text>
<line x1="775.50" y1="574.50" x2="775.50" y2="577.50" stroke="#000" stroke-width="1.00"/>
<text x="775.50" y="586.80" font-size="6.40" font-weight="bold" text-anchor="middle" fill="#000">1000</text>
<text x="616.85" y="601.70" font-size="8.20" font-weight="bold" text-anchor="middle" fill="#000" textLength="18.70" lengthAdjust="spacingAndGlyphs">Gain</text>
<g transform="translate(426.3,492.5) rotate(-90)">
<text x="0.00" y="0.00" font-size="9.40" font-weight="normal" text-anchor="middle" fill="#000" textLength="103.60" lengthAdjust="spacingAndGlyphs" stroke="#000" stroke-width="0.3">Noise Density (pA/sqrt Hz)</text>
</g>
<rect x="570" y="479.2" width="39.8" height="8.6" fill="#fff"/>
<text x="589.85" y="486.30" font-size="7.00" font-weight="bold" text-anchor="middle" fill="#000" textLength="28.90" lengthAdjust="spacingAndGlyphs">SAR500x</text>
<rect x="639.1" y="515.8" width="42.8" height="9.2" fill="#fff"/>
<text x="660.50" y="522.90" font-size="7.00" font-weight="bold" text-anchor="middle" fill="#000" textLength="31.80" lengthAdjust="spacingAndGlyphs">SARP500x</text>
<path d="M456.51,550.08 457.21,550.01 457.91,549.94 458.61,549.87 459.30,549.79 460.00,549.71 460.69,549.62 461.39,549.53 462.08,549.44 462.77,549.35 463.46,549.25 464.15,549.15 464.84,549.04 465.53,548.93 466.22,548.82 466.91,548.71 467.60,548.59 468.28,548.47 468.97,548.35 469.65,548.22 470.34,548.09 471.02,547.96 471.70,547.83 472.39,547.69 473.07,547.55 473.75,547.41 474.43,547.26 475.11,547.12 475.79,546.97 476.47,546.82 477.15,546.66 477.83,546.51 478.50,546.35 479.18,546.19 479.86,546.03 480.53,545.86 481.21,545.69 481.88,545.53 482.56,545.36 483.23,545.18 483.91,545.01 484.58,544.83 485.26,544.66 485.93,544.48 486.60,544.30 487.28,544.12 487.95,543.93 488.62,543.75 489.29,543.56 489.96,543.38 490.64,543.19 491.31,543.00 491.98,542.81 492.65,542.61 493.32,542.42 493.99,542.23 494.66,542.03 495.33,541.83 496.00,541.64 496.67,541.44 497.34,541.24 498.01,541.04 498.68,540.84 499.35,540.64 500.02,540.44 500.69,540.24 501.36,540.03 502.03,539.83 502.70,539.62 503.37,539.42 504.04,539.21 504.71,539.00 505.37,538.79 506.04,538.58 506.71,538.37 507.38,538.16 508.05,537.94 508.71,537.73 509.38,537.51 510.04,537.30 510.71,537.08 511.38,536.86 512.04,536.64 512.70,536.42 513.37,536.19 514.03,535.97 514.70,535.75 515.36,535.52 516.02,535.29 516.68,535.06 517.34,534.83 518.00,534.60 518.66,534.37 519.32,534.13 519.98,533.90 520.64,533.66 521.30,533.42 521.96,533.18 522.61,532.94 523.27,532.70 523.92,532.45 524.58,532.21 525.23,531.96 525.89,531.71 526.54,531.46 527.19,531.21 527.84,530.96 528.49,530.70 529.14,530.44 529.79,530.19 530.44,529.93 531.09,529.66 531.73,529.40 532.38,529.14 533.03,528.87 533.67,528.60 534.32,528.34 534.96,528.07 535.60,527.80 536.24,527.52 536.89,527.25 537.53,526.97 538.17,526.70 538.81,526.42 539.45,526.14 540.09,525.86 540.72,525.58 541.36,525.30 542.00,525.01 542.64,524.73 543.27,524.44 543.91,524.15 544.54,523.86 545.18,523.57 545.81,523.28 546.44,522.99 547.08,522.70 547.71,522.40 548.34,522.11 548.97,521.81 549.60,521.51 550.23,521.22 550.86,520.92 551.49,520.62 552.12,520.31 552.75,520.01 553.38,519.71 554.01,519.41 554.64,519.10 555.26,518.79 555.89,518.49 556.52,518.18 557.14,517.87 557.77,517.56 558.39,517.25 559.02,516.94 559.64,516.63 560.27,516.32 560.89,516.01 561.51,515.69 562.14,515.38 562.76,515.06 563.38,514.75 564.00,514.43 564.63,514.12 565.25,513.80 565.87,513.48 566.49,513.16 567.11,512.84 567.73,512.52 568.35,512.20 568.97,511.88 569.59,511.56 570.21,511.24 570.83,510.92 571.45,510.60 572.07,510.27 572.69,509.95 573.31,509.63 573.93,509.30 574.55,508.98 575.16,508.65 575.78,508.33 576.40,508.00 577.02,507.68 577.64,507.35 578.25,507.02 578.87,506.70 579.49,506.37 580.11,506.04 580.72,505.72 581.34,505.39 581.96,505.06 582.57,504.73 583.19,504.41 583.81,504.08 584.43,503.75 585.04,503.42 585.66,503.09 586.28,502.76 586.89,502.44 587.51,502.11 588.13,501.78 588.74,501.45 589.36,501.12 589.98,500.80 590.59,500.47 591.21,500.14 591.83,499.81 592.45,499.48 593.06,499.16 593.68,498.83 594.30,498.50 594.92,498.17 595.53,497.85 596.15,497.52 596.77,497.19 597.39,496.87 598.00,496.54 598.62,496.21 599.24,495.89 599.86,495.56 600.48,495.24 601.09,494.91 601.71,494.59 602.33,494.26 602.95,493.93 603.57,493.61 604.19,493.28 604.80,492.96 605.42,492.64 606.04,492.31 606.66,491.99 607.28,491.66 607.90,491.34 608.52,491.01 609.14,490.69 609.76,490.37 610.37,490.04 610.99,489.72 611.61,489.40 612.23,489.07 612.85,488.75 613.47,488.43 614.09,488.10 614.71,487.78 615.33,487.46 615.95,487.14 616.57,486.81 617.19,486.49 617.81,486.17 618.43,485.85 619.05,485.53 619.67,485.21 620.29,484.88 620.91,484.56 621.53,484.24 622.15,483.92 622.77,483.60 623.39,483.28 624.02,482.96 624.64,482.64 625.26,482.32 625.88,482.00 626.50,481.68 627.12,481.36 627.74,481.04 628.36,480.72 628.98,480.40 629.60,480.08 630.23,479.76 630.85,479.44 631.47,479.12 632.09,478.80 632.71,478.48 633.33,478.16 633.96,477.84 634.58,477.53 635.20,477.21 635.82,476.89 636.44,476.57 637.06,476.25 637.69,475.94 638.31,475.62 638.93,475.30 639.55,474.98 640.18,474.66 640.80,474.35 641.42,474.03 642.04,473.71 642.67,473.40 643.29,473.08 643.91,472.76 644.53,472.45 645.16,472.13 645.78,471.81 646.40,471.50 647.03,471.18 647.65,470.86 648.27,470.55 648.89,470.23 649.52,469.92 650.14,469.60 650.76,469.29 651.39,468.97 652.01,468.65 652.63,468.34 653.26,468.02 653.88,467.71 654.51,467.39 655.13,467.08 655.75,466.77 656.38,466.45 657.00,466.14 657.62,465.82 658.25,465.51 658.87,465.19 659.50,464.88 660.12,464.57 660.75,464.25 661.37,463.94 661.99,463.62 662.62,463.31 663.24,463.00 663.87,462.68 664.49,462.37 665.12,462.06 665.74,461.74 666.37,461.43 666.99,461.12 667.61,460.81 668.24,460.49 668.86,460.18 669.49,459.87 670.11,459.56 670.74,459.24 671.36,458.93 671.99,458.62 672.61,458.31 673.24,458.00 673.86,457.68 674.49,457.37 675.12,457.06 675.74,456.75 676.37,456.44 676.99,456.13 677.62,455.82 678.24,455.50 678.87,455.19 679.49,454.88 680.12,454.57 680.75,454.26 681.37,453.95 682.00,453.64 682.62,453.33 683.25,453.02 683.88,452.71 684.50,452.40 685.13,452.09 685.75,451.78 686.38,451.47 687.01,451.16 687.63,450.85 688.26,450.54 688.88,450.23 689.51,449.92 690.14,449.61 690.76,449.30 691.39,448.99 692.02,448.68 692.64,448.37 693.27,448.06 693.90,447.75 694.52,447.44 695.15,447.14 695.78,446.83 696.40,446.52 697.03,446.21 697.66,445.90 698.29,445.59 698.91,445.28 699.54,444.98 700.17,444.67 700.79,444.36 701.42,444.05 702.05,443.74 702.68,443.43 703.30,443.13 703.93,442.82 704.56,442.51 705.18,442.20 705.81,441.90 706.44,441.59 707.07,441.28 707.69,440.97 708.32,440.67 708.95,440.36 709.58,440.05 710.20,439.74 710.83,439.44 711.46,439.13 712.09,438.82 712.72,438.52 713.34,438.21 713.97,437.90 714.60,437.60 715.23,437.29 715.86,436.98 716.48,436.68 717.11,436.37 717.74,436.06 718.37,435.76 719.00,435.45 719.62,435.15 720.25,434.84 720.88,434.53 721.51,434.23 722.14,433.92 722.77,433.62 723.39,433.31 724.02,433.00 724.65,432.70" fill="none" stroke="#1a2cff" stroke-width="1.30" stroke-linejoin="round" stroke-linecap="butt"/>
<path d="M456.54,554.98 457.23,554.95 457.93,554.91 458.62,554.88 459.32,554.84 460.01,554.81 460.71,554.78 461.40,554.74 462.10,554.71 462.79,554.68 463.49,554.64 464.18,554.61 464.88,554.58 465.58,554.54 466.27,554.51 466.97,554.48 467.67,554.44 468.36,554.41 469.06,554.38 469.76,554.34 470.45,554.31 471.15,554.28 471.85,554.24 472.55,554.21 473.24,554.18 473.94,554.14 474.64,554.11 475.34,554.08 476.04,554.04 476.73,554.01 477.43,553.97 478.13,553.94 478.83,553.90 479.53,553.87 480.23,553.83 480.93,553.80 481.62,553.76 482.32,553.72 483.02,553.69 483.72,553.65 484.42,553.61 485.12,553.58 485.82,553.54 486.52,553.50 487.22,553.46 487.92,553.42 488.62,553.38 489.32,553.34 490.02,553.30 490.71,553.26 491.41,553.22 492.11,553.17 492.81,553.13 493.51,553.09 494.21,553.04 494.91,553.00 495.61,552.95 496.31,552.90 497.01,552.86 497.71,552.81 498.41,552.76 499.11,552.71 499.81,552.66 500.50,552.61 501.20,552.56 501.90,552.51 502.60,552.46 503.30,552.40 504.00,552.35 504.70,552.29 505.40,552.24 506.10,552.18 506.79,552.12 507.49,552.06 508.19,552.00 508.89,551.94 509.59,551.88 510.28,551.82 510.98,551.76 511.68,551.69 512.38,551.63 513.08,551.56 513.77,551.49 514.47,551.42 515.17,551.35 515.86,551.28 516.56,551.21 517.26,551.14 517.95,551.06 518.65,550.99 519.35,550.91 520.04,550.83 520.74,550.75 521.43,550.67 522.13,550.59 522.82,550.51 523.52,550.42 524.21,550.34 524.91,550.25 525.60,550.16 526.30,550.08 526.99,549.98 527.69,549.89 528.38,549.80 529.07,549.70 529.77,549.61 530.46,549.51 531.15,549.41 531.84,549.31 532.54,549.21 533.23,549.11 533.92,549.00 534.61,548.89 535.30,548.79 535.99,548.68 536.68,548.56 537.37,548.45 538.06,548.34 538.75,548.22 539.44,548.10 540.13,547.98 540.82,547.86 541.51,547.74 542.20,547.61 542.89,547.49 543.57,547.36 544.26,547.23 544.95,547.10 545.64,546.97 546.32,546.83 547.01,546.70 547.69,546.56 548.38,546.42 549.06,546.28 549.75,546.13 550.43,545.99 551.12,545.84 551.80,545.69 552.48,545.55 553.16,545.39 553.85,545.24 554.53,545.09 555.21,544.93 555.89,544.77 556.57,544.61 557.25,544.45 557.93,544.29 558.61,544.12 559.29,543.95 559.97,543.79 560.65,543.62 561.32,543.44 562.00,543.27 562.68,543.10 563.35,542.92 564.03,542.74 564.71,542.56 565.38,542.38 566.05,542.19 566.73,542.01 567.40,541.82 568.07,541.63 568.75,541.44 569.42,541.25 570.09,541.06 570.76,540.86 571.43,540.66 572.10,540.46 572.77,540.26 573.44,540.06 574.11,539.86 574.77,539.65 575.44,539.44 576.11,539.23 576.77,539.02 577.44,538.81 578.10,538.59 578.77,538.38 579.43,538.16 580.09,537.94 580.76,537.72 581.42,537.49 582.08,537.27 582.74,537.04 583.40,536.81 584.06,536.58 584.72,536.35 585.38,536.12 586.03,535.88 586.69,535.64 587.35,535.40 588.00,535.16 588.66,534.92 589.31,534.68 589.96,534.43 590.62,534.18 591.27,533.93 591.92,533.68 592.57,533.43 593.22,533.17 593.87,532.92 594.52,532.66 595.17,532.40 595.82,532.14 596.46,531.87 597.11,531.61 597.75,531.34 598.40,531.07 599.04,530.80 599.68,530.53 600.33,530.25 600.97,529.98 601.61,529.70 602.25,529.42 602.89,529.14 603.53,528.86 604.16,528.57 604.80,528.28 605.44,528.00 606.07,527.71 606.71,527.41 607.34,527.12 607.97,526.82 608.61,526.53 609.24,526.23 609.87,525.93 610.50,525.62 611.13,525.32 611.76,525.02 612.38,524.71 613.01,524.40 613.64,524.09 614.26,523.78 614.89,523.47 615.52,523.16 616.14,522.84 616.76,522.53 617.39,522.21 618.01,521.89 618.63,521.57 619.26,521.25 619.88,520.93 620.50,520.61 621.12,520.29 621.74,519.97 622.36,519.65 622.98,519.32 623.60,519.00 624.22,518.67 624.84,518.35 625.46,518.02 626.08,517.70 626.70,517.37 627.32,517.04 627.94,516.71 628.56,516.39 629.18,516.06 629.80,515.73 630.41,515.40 631.03,515.08 631.65,514.75 632.27,514.42 632.89,514.09 633.51,513.77 634.13,513.44 634.75,513.11 635.37,512.79 635.99,512.46 636.61,512.14 637.23,511.81 637.85,511.49 638.47,511.16 639.09,510.84 639.71,510.52 640.33,510.19 640.95,509.87 641.57,509.55 642.20,509.23 642.82,508.91 643.44,508.60 644.07,508.28 644.69,507.96 645.32,507.65 645.94,507.33 646.57,507.02 647.19,506.71 647.82,506.40 648.45,506.09 649.07,505.78 649.70,505.47 650.33,505.16 650.96,504.85 651.59,504.55 652.22,504.24 652.85,503.94 653.48,503.63 654.11,503.33 654.74,503.03 655.37,502.73 656.00,502.43 656.63,502.12 657.26,501.83 657.89,501.53 658.53,501.23 659.16,500.93 659.79,500.63 660.43,500.33 661.06,500.04 661.69,499.74 662.33,499.45 662.96,499.15 663.59,498.86 664.23,498.56 664.86,498.27 665.50,497.98 666.13,497.68 666.77,497.39 667.41,497.10 668.04,496.81 668.68,496.51 669.31,496.22 669.95,495.93 670.58,495.64 671.22,495.35 671.86,495.06 672.49,494.77 673.13,494.48 673.77,494.19 674.40,493.90 675.04,493.61 675.68,493.32 676.31,493.03 676.95,492.74 677.59,492.45 678.23,492.16 678.86,491.87 679.50,491.59 680.14,491.30 680.77,491.01 681.41,490.72 682.05,490.43 682.69,490.14 683.32,489.85 683.96,489.56 684.60,489.27 685.24,488.99 685.87,488.70 686.51,488.41 687.15,488.12 687.78,487.83 688.42,487.54 689.06,487.25 689.70,486.96 690.33,486.67 690.97,486.38 691.61,486.09 692.24,485.80 692.88,485.52 693.52,485.23 694.16,484.94 694.79,484.65 695.43,484.35 696.07,484.06 696.70,483.77 697.34,483.48 697.97,483.19 698.61,482.90 699.25,482.61 699.88,482.32 700.52,482.03 701.16,481.73 701.79,481.44 702.43,481.15 703.06,480.86 703.70,480.56 704.33,480.27 704.97,479.98 705.60,479.68 706.24,479.39 706.87,479.09 707.51,478.80 708.14,478.50 708.78,478.21 709.41,477.91 710.04,477.62 710.68,477.32 711.31,477.02 711.94,476.72 712.58,476.43 713.21,476.13 713.84,475.83 714.48,475.53 715.11,475.23 715.74,474.93 716.37,474.63 717.00,474.33 717.64,474.03 718.27,473.73 718.90,473.42 719.53,473.12 720.16,472.82 720.79,472.51 721.42,472.21 722.05,471.91 722.68,471.60 723.31,471.29 723.94,470.99 724.57,470.68 725.20,470.37 725.82,470.07 726.45,469.76 727.08,469.45 727.71,469.14 728.33,468.83 728.96,468.52 729.59,468.20 730.21,467.89 730.84,467.58 731.47,467.26 732.09,466.95 732.72,466.64 733.34,466.32 733.96,466.00 734.59,465.69 735.21,465.37 735.84,465.05 736.46,464.73 737.08,464.41 737.70,464.09 738.32,463.77 738.95,463.45 739.57,463.12 740.19,462.80 740.81,462.47 741.43,462.15" fill="none" stroke="#ff1a1a" stroke-width="1.30" stroke-linejoin="round" stroke-linecap="butt"/>
</svg>
</body></html>
